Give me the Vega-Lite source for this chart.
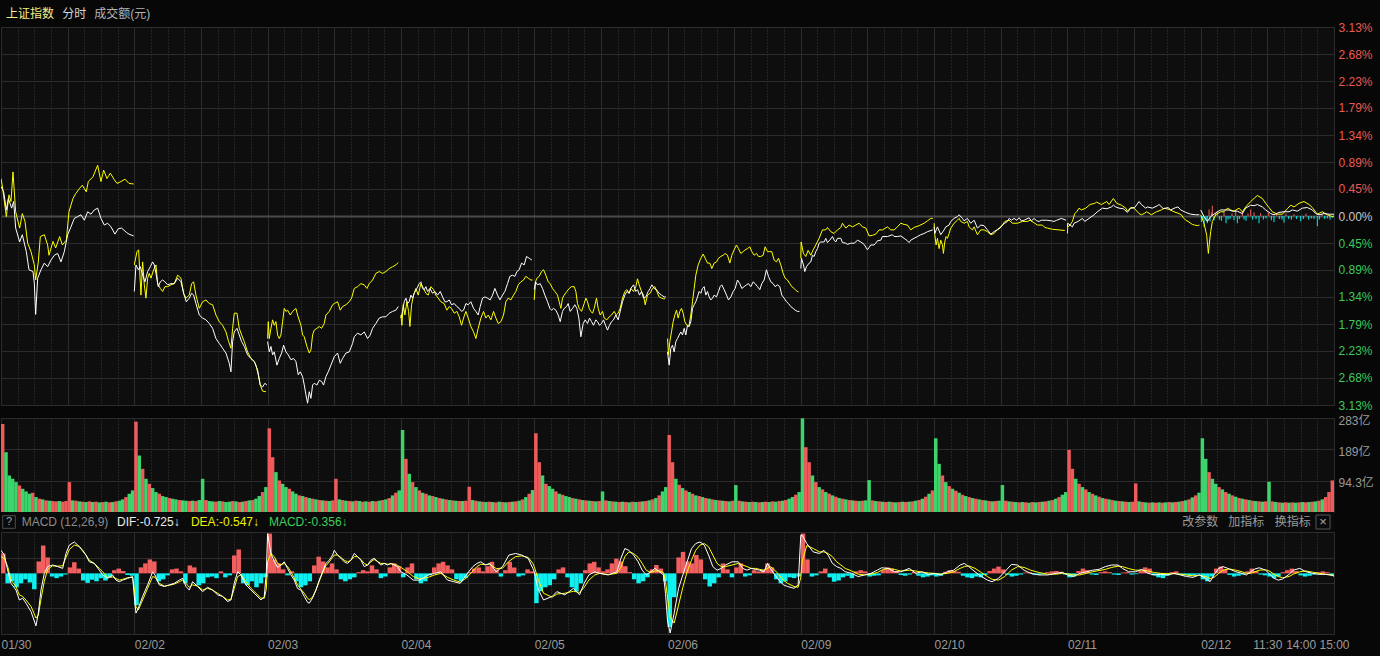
{
"$schema":"https://vega.github.io/schema/vega-lite/v6.json",
"background":"#070707",
"padding":0,
"spacing":0,
"bounds":"flush",
"config":{"font":"Liberation Sans, Noto Sans CJK SC, sans-serif","view":{"fill":"#0e0e0e","stroke":"#2c2c2c"}},
"datasets":{
"Y":[
{"d":0,"t":0,"p":0.62},{"d":0,"t":0.0125,"p":0.46},{"d":0,"t":0.04,"p":-0.01},{"d":0,"t":0.06,"p":0.35},{"d":0,"t":0.075,"p":0.24},{"d":0,"t":0.09,"p":0.73},{"d":0,"t":0.11,"p":0.07},{"d":0,"t":0.14,"p":-0.2},{"d":0,"t":0.16,"p":0.04},{"d":0,"t":0.18,"p":-0.09},{"d":0,"t":0.2,"p":-0.45},{"d":0,"t":0.225,"p":-0.59},{"d":0,"t":0.25,"p":-0.81},{"d":0,"t":0.26,"p":-1.06},{"d":0,"t":0.28,"p":-0.76},{"d":0,"t":0.295,"p":-0.34},{"d":0,"t":0.325,"p":-0.31},{"d":0,"t":0.35,"p":-0.48},{"d":0,"t":0.36,"p":-0.65},{"d":0,"t":0.39,"p":-0.42},{"d":0,"t":0.41,"p":-0.53},{"d":0,"t":0.44,"p":-0.34},{"d":0,"t":0.46,"p":-0.48},{"d":0,"t":0.49,"p":-0.4},{"d":0,"t":0.51,"p":0.07},{"d":0,"t":0.54,"p":0.29},{"d":0,"t":0.56,"p":0.37},{"d":0,"t":0.59,"p":0.46},{"d":0,"t":0.61,"p":0.51},{"d":0,"t":0.64,"p":0.4},{"d":0,"t":0.655,"p":0.57},{"d":0,"t":0.69,"p":0.65},{"d":0,"t":0.725,"p":0.84},{"d":0,"t":0.75,"p":0.57},{"d":0,"t":0.77,"p":0.76},{"d":0,"t":0.795,"p":0.62},{"d":0,"t":0.82,"p":0.71},{"d":0,"t":0.85,"p":0.6},{"d":0,"t":0.87,"p":0.54},{"d":0,"t":0.9,"p":0.57},{"d":0,"t":0.93,"p":0.61},{"d":0,"t":0.96,"p":0.54},{"d":0,"t":0.995,"p":0.53},
{"d":1,"t":1,"p":-0.81},{"d":1,"t":1.02,"p":-0.59},{"d":1,"t":1.0325,"p":-0.56},{"d":1,"t":1.05,"p":-1.31},{"d":1,"t":1.0625,"p":-0.76},{"d":1,"t":1.075,"p":-1.14},{"d":1,"t":1.0875,"p":-1.36},{"d":1,"t":1.1,"p":-1.03},{"d":1,"t":1.1125,"p":-0.95},{"d":1,"t":1.125,"p":-1.03},{"d":1,"t":1.145,"p":-0.89},{"d":1,"t":1.1625,"p":-0.81},{"d":1,"t":1.175,"p":-1.12},{"d":1,"t":1.195,"p":-1.2},{"d":1,"t":1.2125,"p":-1.25},{"d":1,"t":1.23,"p":-1.17},{"d":1,"t":1.25,"p":-1.17},{"d":1,"t":1.275,"p":-1.14},{"d":1,"t":1.3,"p":-1.12},{"d":1,"t":1.325,"p":-0.98},{"d":1,"t":1.35,"p":-1.03},{"d":1,"t":1.37,"p":-1.28},{"d":1,"t":1.3875,"p":-1.36},{"d":1,"t":1.4125,"p":-1.31},{"d":1,"t":1.43,"p":-1.12},{"d":1,"t":1.445,"p":-1.09},{"d":1,"t":1.4625,"p":-1.31},{"d":1,"t":1.4875,"p":-1.53},{"d":1,"t":1.5125,"p":-1.42},{"d":1,"t":1.5375,"p":-1.39},{"d":1,"t":1.5625,"p":-1.45},{"d":1,"t":1.5875,"p":-1.47},{"d":1,"t":1.6125,"p":-1.64},{"d":1,"t":1.6375,"p":-1.75},{"d":1,"t":1.6625,"p":-1.81},{"d":1,"t":1.6875,"p":-1.92},{"d":1,"t":1.7075,"p":-2.08},{"d":1,"t":1.725,"p":-2.19},{"d":1,"t":1.7375,"p":-1.86},{"d":1,"t":1.75,"p":-1.61},{"d":1,"t":1.77,"p":-1.61},{"d":1,"t":1.7875,"p":-1.86},{"d":1,"t":1.805,"p":-1.97},{"d":1,"t":1.825,"p":-2.08},{"d":1,"t":1.85,"p":-2.25},{"d":1,"t":1.875,"p":-2.36},{"d":1,"t":1.9,"p":-2.41},{"d":1,"t":1.9125,"p":-2.47},{"d":1,"t":1.93,"p":-2.63},{"d":1,"t":1.945,"p":-2.8},{"d":1,"t":1.9625,"p":-2.9},{"d":1,"t":1.9875,"p":-2.91},
{"d":2,"t":2,"p":-2.03},{"d":2,"t":2.005,"p":-1.75},{"d":2,"t":2.0125,"p":-2.03},{"d":2,"t":2.025,"p":-1.86},{"d":2,"t":2.0375,"p":-1.72},{"d":2,"t":2.05,"p":-1.81},{"d":2,"t":2.0625,"p":-1.75},{"d":2,"t":2.075,"p":-1.97},{"d":2,"t":2.0875,"p":-2.03},{"d":2,"t":2.1,"p":-1.97},{"d":2,"t":2.1125,"p":-1.75},{"d":2,"t":2.125,"p":-1.53},{"d":2,"t":2.1375,"p":-1.58},{"d":2,"t":2.15,"p":-1.56},{"d":2,"t":2.17,"p":-1.64},{"d":2,"t":2.1875,"p":-1.58},{"d":2,"t":2.2125,"p":-1.53},{"d":2,"t":2.225,"p":-1.64},{"d":2,"t":2.25,"p":-1.81},{"d":2,"t":2.2625,"p":-1.97},{"d":2,"t":2.275,"p":-2.0},{"d":2,"t":2.295,"p":-2.16},{"d":2,"t":2.3125,"p":-2.27},{"d":2,"t":2.325,"p":-2.22},{"d":2,"t":2.3375,"p":-1.97},{"d":2,"t":2.35,"p":-1.89},{"d":2,"t":2.37,"p":-1.86},{"d":2,"t":2.3875,"p":-1.83},{"d":2,"t":2.405,"p":-1.86},{"d":2,"t":2.425,"p":-1.78},{"d":2,"t":2.4375,"p":-1.64},{"d":2,"t":2.4625,"p":-1.58},{"d":2,"t":2.4875,"p":-1.47},{"d":2,"t":2.5,"p":-1.45},{"d":2,"t":2.525,"p":-1.42},{"d":2,"t":2.545,"p":-1.56},{"d":2,"t":2.5625,"p":-1.5},{"d":2,"t":2.5875,"p":-1.47},{"d":2,"t":2.6125,"p":-1.42},{"d":2,"t":2.63,"p":-1.36},{"d":2,"t":2.65,"p":-1.2},{"d":2,"t":2.675,"p":-1.17},{"d":2,"t":2.7,"p":-1.12},{"d":2,"t":2.725,"p":-1.14},{"d":2,"t":2.745,"p":-1.2},{"d":2,"t":2.7625,"p":-1.12},{"d":2,"t":2.7875,"p":-1.06},{"d":2,"t":2.8125,"p":-0.95},{"d":2,"t":2.8375,"p":-0.92},{"d":2,"t":2.8625,"p":-0.95},{"d":2,"t":2.8875,"p":-0.92},{"d":2,"t":2.9125,"p":-0.87},{"d":2,"t":2.9375,"p":-0.84},{"d":2,"t":2.9625,"p":-0.81},{"d":2,"t":2.98,"p":-0.77},
{"d":3,"t":3,"p":-1.64},{"d":3,"t":3.0075,"p":-1.81},{"d":3,"t":3.0175,"p":-1.47},{"d":3,"t":3.03,"p":-1.64},{"d":3,"t":3.045,"p":-1.42},{"d":3,"t":3.0575,"p":-1.58},{"d":3,"t":3.0675,"p":-1.83},{"d":3,"t":3.08,"p":-1.47},{"d":3,"t":3.095,"p":-1.31},{"d":3,"t":3.1125,"p":-1.2},{"d":3,"t":3.13,"p":-1.31},{"d":3,"t":3.15,"p":-1.12},{"d":3,"t":3.17,"p":-1.2},{"d":3,"t":3.1875,"p":-1.28},{"d":3,"t":3.205,"p":-1.31},{"d":3,"t":3.225,"p":-1.17},{"d":3,"t":3.245,"p":-1.22},{"d":3,"t":3.2625,"p":-1.31},{"d":3,"t":3.28,"p":-1.36},{"d":3,"t":3.3,"p":-1.42},{"d":3,"t":3.325,"p":-1.45},{"d":3,"t":3.345,"p":-1.56},{"d":3,"t":3.3625,"p":-1.5},{"d":3,"t":3.38,"p":-1.53},{"d":3,"t":3.4,"p":-1.61},{"d":3,"t":3.42,"p":-1.58},{"d":3,"t":3.4375,"p":-1.67},{"d":3,"t":3.455,"p":-1.81},{"d":3,"t":3.47,"p":-1.69},{"d":3,"t":3.4875,"p":-1.58},{"d":3,"t":3.505,"p":-1.69},{"d":3,"t":3.525,"p":-1.83},{"d":3,"t":3.545,"p":-1.92},{"d":3,"t":3.5625,"p":-2.03},{"d":3,"t":3.58,"p":-1.86},{"d":3,"t":3.6,"p":-1.69},{"d":3,"t":3.62,"p":-1.58},{"d":3,"t":3.6375,"p":-1.69},{"d":3,"t":3.655,"p":-1.64},{"d":3,"t":3.675,"p":-1.72},{"d":3,"t":3.695,"p":-1.58},{"d":3,"t":3.7125,"p":-1.69},{"d":3,"t":3.73,"p":-1.78},{"d":3,"t":3.75,"p":-1.75},{"d":3,"t":3.77,"p":-1.64},{"d":3,"t":3.7875,"p":-1.42},{"d":3,"t":3.805,"p":-1.36},{"d":3,"t":3.825,"p":-1.39},{"d":3,"t":3.845,"p":-1.31},{"d":3,"t":3.8625,"p":-1.25},{"d":3,"t":3.88,"p":-1.14},{"d":3,"t":3.9,"p":-1.09},{"d":3,"t":3.92,"p":-1.06},{"d":3,"t":3.9375,"p":-1.0},{"d":3,"t":3.955,"p":-1.03},{"d":3,"t":3.975,"p":-1.06},{"d":3,"t":3.9875,"p":-1.06},
{"d":4,"t":4,"p":-1.39},{"d":4,"t":4.01,"p":-1.09},{"d":4,"t":4.02,"p":-1.03},{"d":4,"t":4.0375,"p":-1.0},{"d":4,"t":4.055,"p":-0.92},{"d":4,"t":4.07,"p":-0.89},{"d":4,"t":4.0875,"p":-0.98},{"d":4,"t":4.105,"p":-1.09},{"d":4,"t":4.12,"p":-1.12},{"d":4,"t":4.1375,"p":-1.2},{"d":4,"t":4.155,"p":-1.25},{"d":4,"t":4.175,"p":-1.31},{"d":4,"t":4.1875,"p":-1.42},{"d":4,"t":4.2,"p":-1.53},{"d":4,"t":4.2125,"p":-1.36},{"d":4,"t":4.225,"p":-1.31},{"d":4,"t":4.245,"p":-1.25},{"d":4,"t":4.2625,"p":-1.2},{"d":4,"t":4.28,"p":-1.17},{"d":4,"t":4.3,"p":-1.17},{"d":4,"t":4.3125,"p":-1.25},{"d":4,"t":4.325,"p":-1.45},{"d":4,"t":4.3375,"p":-1.53},{"d":4,"t":4.355,"p":-1.58},{"d":4,"t":4.375,"p":-1.45},{"d":4,"t":4.3875,"p":-1.36},{"d":4,"t":4.4,"p":-1.42},{"d":4,"t":4.4125,"p":-1.53},{"d":4,"t":4.425,"p":-1.58},{"d":4,"t":4.4375,"p":-1.61},{"d":4,"t":4.45,"p":-1.53},{"d":4,"t":4.4675,"p":-1.36},{"d":4,"t":4.48,"p":-1.53},{"d":4,"t":4.495,"p":-1.64},{"d":4,"t":4.5125,"p":-1.58},{"d":4,"t":4.525,"p":-1.69},{"d":4,"t":4.545,"p":-1.72},{"d":4,"t":4.5625,"p":-1.67},{"d":4,"t":4.58,"p":-1.64},{"d":4,"t":4.6,"p":-1.58},{"d":4,"t":4.615,"p":-1.64},{"d":4,"t":4.63,"p":-1.61},{"d":4,"t":4.645,"p":-1.53},{"d":4,"t":4.6625,"p":-1.36},{"d":4,"t":4.68,"p":-1.25},{"d":4,"t":4.695,"p":-1.22},{"d":4,"t":4.7125,"p":-1.28},{"d":4,"t":4.725,"p":-1.2},{"d":4,"t":4.745,"p":-1.25},{"d":4,"t":4.7625,"p":-1.17},{"d":4,"t":4.775,"p":-1.04},{"d":4,"t":4.7875,"p":-1.14},{"d":4,"t":4.805,"p":-1.25},{"d":4,"t":4.82,"p":-1.31},{"d":4,"t":4.8325,"p":-1.47},{"d":4,"t":4.85,"p":-1.31},{"d":4,"t":4.87,"p":-1.28},{"d":4,"t":4.8875,"p":-1.2},{"d":4,"t":4.905,"p":-1.17},{"d":4,"t":4.92,"p":-1.25},{"d":4,"t":4.9375,"p":-1.34},{"d":4,"t":4.955,"p":-1.36},{"d":4,"t":4.97,"p":-1.37},{"d":4,"t":4.9825,"p":-1.37},
{"d":5,"t":5,"p":-2.03},{"d":5,"t":5.0075,"p":-2.3},{"d":5,"t":5.0175,"p":-2.08},{"d":5,"t":5.03,"p":-1.92},{"d":5,"t":5.0425,"p":-1.75},{"d":5,"t":5.055,"p":-1.64},{"d":5,"t":5.0675,"p":-1.56},{"d":5,"t":5.08,"p":-1.69},{"d":5,"t":5.0925,"p":-1.58},{"d":5,"t":5.105,"p":-1.53},{"d":5,"t":5.1175,"p":-1.61},{"d":5,"t":5.13,"p":-1.75},{"d":5,"t":5.145,"p":-1.81},{"d":5,"t":5.16,"p":-1.83},{"d":5,"t":5.175,"p":-1.64},{"d":5,"t":5.1875,"p":-1.42},{"d":5,"t":5.2,"p":-1.2},{"d":5,"t":5.2125,"p":-0.98},{"d":5,"t":5.23,"p":-0.81},{"d":5,"t":5.25,"p":-0.7},{"d":5,"t":5.2675,"p":-0.63},{"d":5,"t":5.2825,"p":-0.7},{"d":5,"t":5.3,"p":-0.78},{"d":5,"t":5.3175,"p":-0.78},{"d":5,"t":5.3325,"p":-0.87},{"d":5,"t":5.35,"p":-0.78},{"d":5,"t":5.3675,"p":-0.76},{"d":5,"t":5.3825,"p":-0.7},{"d":5,"t":5.4,"p":-0.67},{"d":5,"t":5.4175,"p":-0.65},{"d":5,"t":5.4325,"p":-0.62},{"d":5,"t":5.45,"p":-0.65},{"d":5,"t":5.4675,"p":-0.78},{"d":5,"t":5.4825,"p":-0.65},{"d":5,"t":5.5,"p":-0.56},{"d":5,"t":5.5175,"p":-0.48},{"d":5,"t":5.5325,"p":-0.54},{"d":5,"t":5.55,"p":-0.62},{"d":5,"t":5.5675,"p":-0.59},{"d":5,"t":5.5825,"p":-0.56},{"d":5,"t":5.6,"p":-0.54},{"d":5,"t":5.6175,"p":-0.51},{"d":5,"t":5.6325,"p":-0.59},{"d":5,"t":5.65,"p":-0.65},{"d":5,"t":5.6675,"p":-0.62},{"d":5,"t":5.6825,"p":-0.67},{"d":5,"t":5.7,"p":-0.67},{"d":5,"t":5.7175,"p":-0.65},{"d":5,"t":5.7325,"p":-0.51},{"d":5,"t":5.75,"p":-0.59},{"d":5,"t":5.7675,"p":-0.59},{"d":5,"t":5.7825,"p":-0.59},{"d":5,"t":5.8,"p":-0.73},{"d":5,"t":5.8175,"p":-0.76},{"d":5,"t":5.8325,"p":-0.7},{"d":5,"t":5.85,"p":-0.81},{"d":5,"t":5.8675,"p":-0.95},{"d":5,"t":5.8825,"p":-1.03},{"d":5,"t":5.9,"p":-1.06},{"d":5,"t":5.9175,"p":-1.12},{"d":5,"t":5.9325,"p":-1.17},{"d":5,"t":5.95,"p":-1.2},{"d":5,"t":5.9675,"p":-1.24},{"d":5,"t":5.9825,"p":-1.26},
{"d":6,"t":6,"p":-0.7},{"d":6,"t":6.0025,"p":-0.43},{"d":6,"t":6.02,"p":-0.62},{"d":6,"t":6.0375,"p":-0.67},{"d":6,"t":6.055,"p":-0.57},{"d":6,"t":6.075,"p":-0.65},{"d":6,"t":6.095,"p":-0.55},{"d":6,"t":6.1125,"p":-0.48},{"d":6,"t":6.1375,"p":-0.37},{"d":6,"t":6.1625,"p":-0.23},{"d":6,"t":6.1875,"p":-0.23},{"d":6,"t":6.2,"p":-0.19},{"d":6,"t":6.225,"p":-0.26},{"d":6,"t":6.25,"p":-0.29},{"d":6,"t":6.275,"p":-0.23},{"d":6,"t":6.3,"p":-0.19},{"d":6,"t":6.3125,"p":-0.12},{"d":6,"t":6.3375,"p":-0.2},{"d":6,"t":6.3625,"p":-0.15},{"d":6,"t":6.3875,"p":-0.18},{"d":6,"t":6.4125,"p":-0.15},{"d":6,"t":6.4375,"p":-0.12},{"d":6,"t":6.4625,"p":-0.18},{"d":6,"t":6.4875,"p":-0.2},{"d":6,"t":6.5125,"p":-0.33},{"d":6,"t":6.5375,"p":-0.32},{"d":6,"t":6.5625,"p":-0.3},{"d":6,"t":6.5875,"p":-0.23},{"d":6,"t":6.6125,"p":-0.23},{"d":6,"t":6.65,"p":-0.18},{"d":6,"t":6.675,"p":-0.23},{"d":6,"t":6.7,"p":-0.23},{"d":6,"t":6.725,"p":-0.18},{"d":6,"t":6.75,"p":-0.12},{"d":6,"t":6.775,"p":-0.14},{"d":6,"t":6.8,"p":-0.15},{"d":6,"t":6.825,"p":-0.23},{"d":6,"t":6.85,"p":-0.19},{"d":6,"t":6.8875,"p":-0.16},{"d":6,"t":6.925,"p":-0.12},{"d":6,"t":6.95,"p":-0.08},{"d":6,"t":6.975,"p":-0.04},{"d":6,"t":6.99,"p":-0.04},
{"d":7,"t":7,"p":-0.12},{"d":7,"t":7.005,"p":-0.31},{"d":7,"t":7.015,"p":-0.48},{"d":7,"t":7.025,"p":-0.37},{"d":7,"t":7.0375,"p":-0.54},{"d":7,"t":7.05,"p":-0.4},{"d":7,"t":7.0625,"p":-0.48},{"d":7,"t":7.07,"p":-0.62},{"d":7,"t":7.08,"p":-0.43},{"d":7,"t":7.09,"p":-0.34},{"d":7,"t":7.1,"p":-0.37},{"d":7,"t":7.1125,"p":-0.29},{"d":7,"t":7.125,"p":-0.2},{"d":7,"t":7.15,"p":-0.12},{"d":7,"t":7.175,"p":-0.07},{"d":7,"t":7.1875,"p":-0.04},{"d":7,"t":7.2,"p":-0.09},{"d":7,"t":7.225,"p":-0.12},{"d":7,"t":7.25,"p":-0.09},{"d":7,"t":7.2625,"p":-0.18},{"d":7,"t":7.2875,"p":-0.23},{"d":7,"t":7.3,"p":-0.18},{"d":7,"t":7.325,"p":-0.31},{"d":7,"t":7.35,"p":-0.23},{"d":7,"t":7.375,"p":-0.23},{"d":7,"t":7.4,"p":-0.26},{"d":7,"t":7.425,"p":-0.31},{"d":7,"t":7.45,"p":-0.29},{"d":7,"t":7.475,"p":-0.22},{"d":7,"t":7.5,"p":-0.18},{"d":7,"t":7.5125,"p":-0.15},{"d":7,"t":7.53,"p":-0.09},{"d":7,"t":7.5625,"p":-0.07},{"d":7,"t":7.5875,"p":-0.12},{"d":7,"t":7.625,"p":-0.12},{"d":7,"t":7.6625,"p":-0.09},{"d":7,"t":7.7,"p":-0.09},{"d":7,"t":7.72,"p":-0.07},{"d":7,"t":7.755,"p":-0.12},{"d":7,"t":7.775,"p":-0.15},{"d":7,"t":7.8125,"p":-0.15},{"d":7,"t":7.83,"p":-0.19},{"d":7,"t":7.85,"p":-0.2},{"d":7,"t":7.8875,"p":-0.22},{"d":7,"t":7.9375,"p":-0.23},{"d":7,"t":7.98,"p":-0.24},
{"d":8,"t":8,"p":-0.29},{"d":8,"t":8.0025,"p":-0.18},{"d":8,"t":8.02,"p":-0.15},{"d":8,"t":8.0375,"p":-0.09},{"d":8,"t":8.055,"p":0.04},{"d":8,"t":8.07,"p":0.07},{"d":8,"t":8.0875,"p":0.13},{"d":8,"t":8.105,"p":0.1},{"d":8,"t":8.1375,"p":0.13},{"d":8,"t":8.17,"p":0.19},{"d":8,"t":8.205,"p":0.21},{"d":8,"t":8.22,"p":0.23},{"d":8,"t":8.255,"p":0.19},{"d":8,"t":8.295,"p":0.24},{"d":8,"t":8.3125,"p":0.19},{"d":8,"t":8.345,"p":0.29},{"d":8,"t":8.37,"p":0.21},{"d":8,"t":8.405,"p":0.18},{"d":8,"t":8.4375,"p":0.13},{"d":8,"t":8.45,"p":0.08},{"d":8,"t":8.475,"p":0.14},{"d":8,"t":8.5,"p":0.13},{"d":8,"t":8.5375,"p":0.04},{"d":8,"t":8.555,"p":0.02},{"d":8,"t":8.575,"p":0.04},{"d":8,"t":8.595,"p":0.07},{"d":8,"t":8.63,"p":0.02},{"d":8,"t":8.6675,"p":0.07},{"d":8,"t":8.705,"p":0.1},{"d":8,"t":8.725,"p":0.13},{"d":8,"t":8.7625,"p":0.11},{"d":8,"t":8.8,"p":0.07},{"d":8,"t":8.8375,"p":0.04},{"d":8,"t":8.855,"p":0.02},{"d":8,"t":8.87,"p":-0.03},{"d":8,"t":8.8875,"p":-0.07},{"d":8,"t":8.905,"p":-0.09},{"d":8,"t":8.9375,"p":-0.14},{"d":8,"t":8.955,"p":-0.15},{"d":8,"t":8.975,"p":-0.16},{"d":8,"t":8.99,"p":-0.15},
{"d":9,"t":9,"p":0.02},{"d":9,"t":9.025,"p":-0.12},{"d":9,"t":9.045,"p":-0.32},{"d":9,"t":9.0575,"p":-0.62},{"d":9,"t":9.065,"p":-0.45},{"d":9,"t":9.075,"p":-0.26},{"d":9,"t":9.0875,"p":-0.09},{"d":9,"t":9.1125,"p":0.02},{"d":9,"t":9.15,"p":0.07},{"d":9,"t":9.175,"p":0.07},{"d":9,"t":9.2,"p":0.13},{"d":9,"t":9.225,"p":0.1},{"d":9,"t":9.25,"p":0.08},{"d":9,"t":9.2875,"p":0.13},{"d":9,"t":9.3125,"p":0.07},{"d":9,"t":9.3375,"p":0.15},{"d":9,"t":9.375,"p":0.24},{"d":9,"t":9.4,"p":0.29},{"d":9,"t":9.425,"p":0.34},{"d":9,"t":9.4625,"p":0.29},{"d":9,"t":9.4875,"p":0.21},{"d":9,"t":9.5125,"p":0.14},{"d":9,"t":9.5375,"p":0.07},{"d":9,"t":9.575,"p":0.03},{"d":9,"t":9.6125,"p":0.03},{"d":9,"t":9.65,"p":0.12},{"d":9,"t":9.675,"p":0.18},{"d":9,"t":9.7,"p":0.15},{"d":9,"t":9.7375,"p":0.21},{"d":9,"t":9.775,"p":0.24},{"d":9,"t":9.8125,"p":0.19},{"d":9,"t":9.8375,"p":0.14},{"d":9,"t":9.875,"p":0.03},{"d":9,"t":9.9125,"p":0.07},{"d":9,"t":9.95,"p":0.02},{"d":9,"t":9.9875,"p":-0.01},{"d":9,"t":10,"p":0.0}
],
"W":[
{"d":0,"t":0,"p":0.49},{"d":0,"t":0.02,"p":0.4},{"d":0,"t":0.04,"p":0.1},{"d":0,"t":0.055,"p":0.29},{"d":0,"t":0.08,"p":0.13},{"d":0,"t":0.095,"p":0.24},{"d":0,"t":0.11,"p":-0.2},{"d":0,"t":0.14,"p":-0.43},{"d":0,"t":0.16,"p":-0.31},{"d":0,"t":0.19,"p":-0.59},{"d":0,"t":0.21,"p":-0.89},{"d":0,"t":0.24,"p":-0.92},{"d":0,"t":0.25,"p":-1.11},{"d":0,"t":0.26,"p":-1.63},{"d":0,"t":0.275,"p":-1.03},{"d":0,"t":0.3,"p":-0.89},{"d":0,"t":0.325,"p":-0.78},{"d":0,"t":0.35,"p":-0.84},{"d":0,"t":0.375,"p":-0.73},{"d":0,"t":0.4,"p":-0.65},{"d":0,"t":0.425,"p":-0.62},{"d":0,"t":0.45,"p":-0.76},{"d":0,"t":0.475,"p":-0.59},{"d":0,"t":0.5,"p":-0.31},{"d":0,"t":0.525,"p":-0.18},{"d":0,"t":0.55,"p":-0.04},{"d":0,"t":0.575,"p":-0.01},{"d":0,"t":0.6,"p":0.02},{"d":0,"t":0.625,"p":-0.07},{"d":0,"t":0.65,"p":0.07},{"d":0,"t":0.675,"p":0.03},{"d":0,"t":0.7,"p":0.1},{"d":0,"t":0.725,"p":0.13},{"d":0,"t":0.75,"p":-0.04},{"d":0,"t":0.775,"p":-0.15},{"d":0,"t":0.8,"p":-0.12},{"d":0,"t":0.825,"p":-0.18},{"d":0,"t":0.855,"p":-0.3},{"d":0,"t":0.88,"p":-0.21},{"d":0,"t":0.905,"p":-0.2},{"d":0,"t":0.94,"p":-0.27},{"d":0,"t":0.96,"p":-0.3},{"d":0,"t":0.995,"p":-0.33},
{"d":1,"t":1,"p":-1.25},{"d":1,"t":1.0125,"p":-0.81},{"d":1,"t":1.03,"p":-0.89},{"d":1,"t":1.045,"p":-0.84},{"d":1,"t":1.0625,"p":-0.98},{"d":1,"t":1.08,"p":-1.09},{"d":1,"t":1.1,"p":-0.92},{"d":1,"t":1.12,"p":-0.84},{"d":1,"t":1.1375,"p":-0.76},{"d":1,"t":1.15,"p":-0.81},{"d":1,"t":1.1625,"p":-0.95},{"d":1,"t":1.18,"p":-1.17},{"d":1,"t":1.195,"p":-1.09},{"d":1,"t":1.2125,"p":-1.06},{"d":1,"t":1.23,"p":-1.09},{"d":1,"t":1.25,"p":-1.14},{"d":1,"t":1.275,"p":-1.12},{"d":1,"t":1.3,"p":-1.12},{"d":1,"t":1.325,"p":-1.03},{"d":1,"t":1.35,"p":-1.09},{"d":1,"t":1.37,"p":-1.28},{"d":1,"t":1.39,"p":-1.42},{"d":1,"t":1.4125,"p":-1.36},{"d":1,"t":1.43,"p":-1.28},{"d":1,"t":1.445,"p":-1.31},{"d":1,"t":1.4625,"p":-1.45},{"d":1,"t":1.4875,"p":-1.64},{"d":1,"t":1.5125,"p":-1.69},{"d":1,"t":1.5375,"p":-1.72},{"d":1,"t":1.5625,"p":-1.78},{"d":1,"t":1.5875,"p":-1.86},{"d":1,"t":1.6125,"p":-2.03},{"d":1,"t":1.6375,"p":-2.11},{"d":1,"t":1.6625,"p":-2.19},{"d":1,"t":1.6875,"p":-2.27},{"d":1,"t":1.7125,"p":-2.44},{"d":1,"t":1.725,"p":-2.58},{"d":1,"t":1.7375,"p":-2.08},{"d":1,"t":1.75,"p":-1.92},{"d":1,"t":1.77,"p":-1.86},{"d":1,"t":1.7875,"p":-1.97},{"d":1,"t":1.805,"p":-2.08},{"d":1,"t":1.825,"p":-2.16},{"d":1,"t":1.85,"p":-2.3},{"d":1,"t":1.875,"p":-2.36},{"d":1,"t":1.9,"p":-2.41},{"d":1,"t":1.925,"p":-2.55},{"d":1,"t":1.945,"p":-2.8},{"d":1,"t":1.9625,"p":-2.83},{"d":1,"t":1.98,"p":-2.77},{"d":1,"t":1.995,"p":-2.8},
{"d":2,"t":2,"p":-2.08},{"d":2,"t":2.0125,"p":-2.25},{"d":2,"t":2.025,"p":-2.16},{"d":2,"t":2.0375,"p":-2.3},{"d":2,"t":2.05,"p":-2.25},{"d":2,"t":2.07,"p":-2.47},{"d":2,"t":2.0875,"p":-2.36},{"d":2,"t":2.105,"p":-2.27},{"d":2,"t":2.12,"p":-2.14},{"d":2,"t":2.1375,"p":-2.25},{"d":2,"t":2.155,"p":-2.3},{"d":2,"t":2.175,"p":-2.38},{"d":2,"t":2.195,"p":-2.36},{"d":2,"t":2.2125,"p":-2.41},{"d":2,"t":2.23,"p":-2.63},{"d":2,"t":2.245,"p":-2.58},{"d":2,"t":2.2625,"p":-2.66},{"d":2,"t":2.275,"p":-2.8},{"d":2,"t":2.2875,"p":-2.96},{"d":2,"t":2.3,"p":-3.1},{"d":2,"t":2.3125,"p":-2.91},{"d":2,"t":2.325,"p":-3.02},{"d":2,"t":2.3375,"p":-2.8},{"d":2,"t":2.35,"p":-2.77},{"d":2,"t":2.37,"p":-2.8},{"d":2,"t":2.3875,"p":-2.72},{"d":2,"t":2.405,"p":-2.74},{"d":2,"t":2.42,"p":-2.8},{"d":2,"t":2.4375,"p":-2.66},{"d":2,"t":2.455,"p":-2.58},{"d":2,"t":2.475,"p":-2.47},{"d":2,"t":2.5,"p":-2.33},{"d":2,"t":2.525,"p":-2.27},{"d":2,"t":2.545,"p":-2.44},{"d":2,"t":2.5625,"p":-2.36},{"d":2,"t":2.5875,"p":-2.27},{"d":2,"t":2.6125,"p":-2.25},{"d":2,"t":2.6375,"p":-2.11},{"d":2,"t":2.65,"p":-2.0},{"d":2,"t":2.675,"p":-1.94},{"d":2,"t":2.7,"p":-1.97},{"d":2,"t":2.725,"p":-1.92},{"d":2,"t":2.75,"p":-2.03},{"d":2,"t":2.77,"p":-1.97},{"d":2,"t":2.7875,"p":-1.86},{"d":2,"t":2.8125,"p":-1.78},{"d":2,"t":2.8375,"p":-1.69},{"d":2,"t":2.8625,"p":-1.67},{"d":2,"t":2.8875,"p":-1.67},{"d":2,"t":2.9125,"p":-1.61},{"d":2,"t":2.9375,"p":-1.58},{"d":2,"t":2.9625,"p":-1.56},{"d":2,"t":2.98,"p":-1.5},
{"d":3,"t":3,"p":-1.69},{"d":3,"t":3.0125,"p":-1.58},{"d":3,"t":3.025,"p":-1.42},{"d":3,"t":3.0375,"p":-1.36},{"d":3,"t":3.05,"p":-1.45},{"d":3,"t":3.0625,"p":-1.42},{"d":3,"t":3.075,"p":-1.31},{"d":3,"t":3.0875,"p":-1.36},{"d":3,"t":3.1,"p":-1.28},{"d":3,"t":3.12,"p":-1.2},{"d":3,"t":3.1375,"p":-1.12},{"d":3,"t":3.15,"p":-1.09},{"d":3,"t":3.1625,"p":-1.2},{"d":3,"t":3.175,"p":-1.22},{"d":3,"t":3.1875,"p":-1.17},{"d":3,"t":3.2,"p":-1.25},{"d":3,"t":3.2175,"p":-1.2},{"d":3,"t":3.2375,"p":-1.28},{"d":3,"t":3.255,"p":-1.25},{"d":3,"t":3.275,"p":-1.31},{"d":3,"t":3.295,"p":-1.25},{"d":3,"t":3.3125,"p":-1.34},{"d":3,"t":3.33,"p":-1.42},{"d":3,"t":3.345,"p":-1.42},{"d":3,"t":3.3625,"p":-1.39},{"d":3,"t":3.38,"p":-1.47},{"d":3,"t":3.4,"p":-1.45},{"d":3,"t":3.42,"p":-1.5},{"d":3,"t":3.4375,"p":-1.53},{"d":3,"t":3.455,"p":-1.58},{"d":3,"t":3.47,"p":-1.56},{"d":3,"t":3.4875,"p":-1.45},{"d":3,"t":3.505,"p":-1.47},{"d":3,"t":3.525,"p":-1.42},{"d":3,"t":3.545,"p":-1.53},{"d":3,"t":3.5625,"p":-1.58},{"d":3,"t":3.58,"p":-1.64},{"d":3,"t":3.595,"p":-1.5},{"d":3,"t":3.6125,"p":-1.36},{"d":3,"t":3.63,"p":-1.34},{"d":3,"t":3.65,"p":-1.36},{"d":3,"t":3.67,"p":-1.39},{"d":3,"t":3.6875,"p":-1.31},{"d":3,"t":3.705,"p":-1.2},{"d":3,"t":3.725,"p":-1.31},{"d":3,"t":3.7425,"p":-1.39},{"d":3,"t":3.7625,"p":-1.31},{"d":3,"t":3.78,"p":-1.25},{"d":3,"t":3.8,"p":-1.12},{"d":3,"t":3.8175,"p":-1.0},{"d":3,"t":3.8375,"p":-0.98},{"d":3,"t":3.855,"p":-1.0},{"d":3,"t":3.87,"p":-0.92},{"d":3,"t":3.8875,"p":-0.89},{"d":3,"t":3.905,"p":-0.78},{"d":3,"t":3.925,"p":-0.81},{"d":3,"t":3.9425,"p":-0.67},{"d":3,"t":3.9625,"p":-0.7},{"d":3,"t":3.9825,"p":-0.73},
{"d":4,"t":4,"p":-1.22},{"d":4,"t":4.01,"p":-1.09},{"d":4,"t":4.025,"p":-1.14},{"d":4,"t":4.045,"p":-1.12},{"d":4,"t":4.0625,"p":-1.2},{"d":4,"t":4.08,"p":-1.31},{"d":4,"t":4.1,"p":-1.42},{"d":4,"t":4.1175,"p":-1.53},{"d":4,"t":4.13,"p":-1.56},{"d":4,"t":4.145,"p":-1.53},{"d":4,"t":4.1625,"p":-1.56},{"d":4,"t":4.18,"p":-1.64},{"d":4,"t":4.195,"p":-1.75},{"d":4,"t":4.2125,"p":-1.58},{"d":4,"t":4.225,"p":-1.53},{"d":4,"t":4.2425,"p":-1.5},{"d":4,"t":4.255,"p":-1.45},{"d":4,"t":4.27,"p":-1.58},{"d":4,"t":4.2875,"p":-1.53},{"d":4,"t":4.305,"p":-1.47},{"d":4,"t":4.32,"p":-1.53},{"d":4,"t":4.335,"p":-1.69},{"d":4,"t":4.35,"p":-2.0},{"d":4,"t":4.3675,"p":-1.78},{"d":4,"t":4.3825,"p":-1.72},{"d":4,"t":4.4,"p":-1.78},{"d":4,"t":4.415,"p":-1.69},{"d":4,"t":4.43,"p":-1.75},{"d":4,"t":4.445,"p":-1.81},{"d":4,"t":4.4625,"p":-1.72},{"d":4,"t":4.475,"p":-1.75},{"d":4,"t":4.49,"p":-1.81},{"d":4,"t":4.505,"p":-1.78},{"d":4,"t":4.52,"p":-1.72},{"d":4,"t":4.535,"p":-1.81},{"d":4,"t":4.55,"p":-1.89},{"d":4,"t":4.565,"p":-1.81},{"d":4,"t":4.58,"p":-1.75},{"d":4,"t":4.595,"p":-1.72},{"d":4,"t":4.6125,"p":-1.64},{"d":4,"t":4.63,"p":-1.72},{"d":4,"t":4.645,"p":-1.58},{"d":4,"t":4.6625,"p":-1.42},{"d":4,"t":4.68,"p":-1.31},{"d":4,"t":4.695,"p":-1.25},{"d":4,"t":4.7125,"p":-1.28},{"d":4,"t":4.725,"p":-1.2},{"d":4,"t":4.745,"p":-1.14},{"d":4,"t":4.7625,"p":-1.25},{"d":4,"t":4.775,"p":-1.22},{"d":4,"t":4.79,"p":-1.31},{"d":4,"t":4.805,"p":-1.25},{"d":4,"t":4.82,"p":-1.36},{"d":4,"t":4.8375,"p":-1.34},{"d":4,"t":4.855,"p":-1.25},{"d":4,"t":4.87,"p":-1.2},{"d":4,"t":4.8825,"p":-1.14},{"d":4,"t":4.9,"p":-1.2},{"d":4,"t":4.9175,"p":-1.22},{"d":4,"t":4.9375,"p":-1.28},{"d":4,"t":4.955,"p":-1.31},{"d":4,"t":4.975,"p":-1.34},{"d":4,"t":4.9875,"p":-1.34},
{"d":5,"t":5,"p":-2.25},{"d":5,"t":5.0125,"p":-2.47},{"d":5,"t":5.025,"p":-2.19},{"d":5,"t":5.0375,"p":-2.14},{"d":5,"t":5.05,"p":-2.25},{"d":5,"t":5.0625,"p":-2.08},{"d":5,"t":5.075,"p":-2.03},{"d":5,"t":5.0875,"p":-1.97},{"d":5,"t":5.1,"p":-1.92},{"d":5,"t":5.1125,"p":-1.97},{"d":5,"t":5.125,"p":-1.86},{"d":5,"t":5.1375,"p":-1.97},{"d":5,"t":5.15,"p":-1.81},{"d":5,"t":5.1625,"p":-1.83},{"d":5,"t":5.175,"p":-1.75},{"d":5,"t":5.1875,"p":-1.53},{"d":5,"t":5.2,"p":-1.47},{"d":5,"t":5.2125,"p":-1.42},{"d":5,"t":5.225,"p":-1.34},{"d":5,"t":5.2375,"p":-1.25},{"d":5,"t":5.25,"p":-1.28},{"d":5,"t":5.2625,"p":-1.2},{"d":5,"t":5.275,"p":-1.17},{"d":5,"t":5.2875,"p":-1.31},{"d":5,"t":5.3,"p":-1.25},{"d":5,"t":5.3125,"p":-1.34},{"d":5,"t":5.325,"p":-1.39},{"d":5,"t":5.3375,"p":-1.36},{"d":5,"t":5.35,"p":-1.31},{"d":5,"t":5.3675,"p":-1.34},{"d":5,"t":5.3825,"p":-1.25},{"d":5,"t":5.395,"p":-1.17},{"d":5,"t":5.4075,"p":-1.14},{"d":5,"t":5.425,"p":-1.22},{"d":5,"t":5.4425,"p":-1.31},{"d":5,"t":5.4575,"p":-1.39},{"d":5,"t":5.475,"p":-1.34},{"d":5,"t":5.4925,"p":-1.25},{"d":5,"t":5.5075,"p":-1.2},{"d":5,"t":5.525,"p":-1.06},{"d":5,"t":5.5425,"p":-1.12},{"d":5,"t":5.5575,"p":-1.2},{"d":5,"t":5.575,"p":-1.17},{"d":5,"t":5.5925,"p":-1.14},{"d":5,"t":5.6075,"p":-1.12},{"d":5,"t":5.625,"p":-1.17},{"d":5,"t":5.6425,"p":-1.09},{"d":5,"t":5.6575,"p":-1.12},{"d":5,"t":5.675,"p":-1.17},{"d":5,"t":5.6925,"p":-1.22},{"d":5,"t":5.7075,"p":-1.12},{"d":5,"t":5.725,"p":-1.06},{"d":5,"t":5.7425,"p":-0.89},{"d":5,"t":5.7575,"p":-1.0},{"d":5,"t":5.775,"p":-1.09},{"d":5,"t":5.7925,"p":-1.12},{"d":5,"t":5.8075,"p":-1.17},{"d":5,"t":5.825,"p":-1.14},{"d":5,"t":5.8425,"p":-1.17},{"d":5,"t":5.8575,"p":-1.31},{"d":5,"t":5.875,"p":-1.36},{"d":5,"t":5.8925,"p":-1.42},{"d":5,"t":5.9075,"p":-1.45},{"d":5,"t":5.925,"p":-1.5},{"d":5,"t":5.9425,"p":-1.53},{"d":5,"t":5.9575,"p":-1.56},{"d":5,"t":5.975,"p":-1.58},{"d":5,"t":5.99,"p":-1.58},
{"d":6,"t":6,"p":-0.87},{"d":6,"t":6.005,"p":-0.7},{"d":6,"t":6.02,"p":-0.81},{"d":6,"t":6.03,"p":-0.92},{"d":6,"t":6.0425,"p":-0.84},{"d":6,"t":6.0625,"p":-0.78},{"d":6,"t":6.075,"p":-0.76},{"d":6,"t":6.0875,"p":-0.65},{"d":6,"t":6.1,"p":-0.67},{"d":6,"t":6.1125,"p":-0.59},{"d":6,"t":6.125,"p":-0.54},{"d":6,"t":6.1375,"p":-0.45},{"d":6,"t":6.15,"p":-0.43},{"d":6,"t":6.175,"p":-0.43},{"d":6,"t":6.1875,"p":-0.37},{"d":6,"t":6.2,"p":-0.44},{"d":6,"t":6.2175,"p":-0.4},{"d":6,"t":6.2375,"p":-0.34},{"d":6,"t":6.25,"p":-0.4},{"d":6,"t":6.2625,"p":-0.43},{"d":6,"t":6.275,"p":-0.37},{"d":6,"t":6.3,"p":-0.37},{"d":6,"t":6.3125,"p":-0.44},{"d":6,"t":6.3375,"p":-0.45},{"d":6,"t":6.35,"p":-0.47},{"d":6,"t":6.375,"p":-0.45},{"d":6,"t":6.4,"p":-0.45},{"d":6,"t":6.4125,"p":-0.43},{"d":6,"t":6.425,"p":-0.4},{"d":6,"t":6.45,"p":-0.43},{"d":6,"t":6.475,"p":-0.47},{"d":6,"t":6.5,"p":-0.56},{"d":6,"t":6.5125,"p":-0.52},{"d":6,"t":6.525,"p":-0.48},{"d":6,"t":6.55,"p":-0.48},{"d":6,"t":6.5625,"p":-0.45},{"d":6,"t":6.575,"p":-0.41},{"d":6,"t":6.6,"p":-0.4},{"d":6,"t":6.6125,"p":-0.34},{"d":6,"t":6.65,"p":-0.34},{"d":6,"t":6.6875,"p":-0.31},{"d":6,"t":6.7,"p":-0.34},{"d":6,"t":6.725,"p":-0.34},{"d":6,"t":6.75,"p":-0.33},{"d":6,"t":6.775,"p":-0.37},{"d":6,"t":6.8,"p":-0.41},{"d":6,"t":6.8125,"p":-0.44},{"d":6,"t":6.825,"p":-0.4},{"d":6,"t":6.85,"p":-0.37},{"d":6,"t":6.875,"p":-0.34},{"d":6,"t":6.9,"p":-0.31},{"d":6,"t":6.925,"p":-0.29},{"d":6,"t":6.95,"p":-0.26},{"d":6,"t":6.99,"p":-0.23},
{"d":7,"t":7,"p":-0.18},{"d":7,"t":7.005,"p":-0.29},{"d":7,"t":7.025,"p":-0.18},{"d":7,"t":7.05,"p":-0.31},{"d":7,"t":7.075,"p":-0.23},{"d":7,"t":7.0875,"p":-0.18},{"d":7,"t":7.1125,"p":-0.15},{"d":7,"t":7.125,"p":-0.09},{"d":7,"t":7.15,"p":-0.04},{"d":7,"t":7.175,"p":-0.01},{"d":7,"t":7.1875,"p":0.02},{"d":7,"t":7.2125,"p":-0.04},{"d":7,"t":7.225,"p":-0.08},{"d":7,"t":7.25,"p":-0.04},{"d":7,"t":7.275,"p":-0.12},{"d":7,"t":7.3,"p":-0.07},{"d":7,"t":7.325,"p":-0.2},{"d":7,"t":7.35,"p":-0.15},{"d":7,"t":7.375,"p":-0.16},{"d":7,"t":7.4,"p":-0.23},{"d":7,"t":7.425,"p":-0.3},{"d":7,"t":7.455,"p":-0.25},{"d":7,"t":7.475,"p":-0.23},{"d":7,"t":7.495,"p":-0.2},{"d":7,"t":7.5125,"p":-0.15},{"d":7,"t":7.53,"p":-0.12},{"d":7,"t":7.55,"p":-0.09},{"d":7,"t":7.5625,"p":-0.04},{"d":7,"t":7.58,"p":-0.07},{"d":7,"t":7.6,"p":-0.04},{"d":7,"t":7.62,"p":-0.07},{"d":7,"t":7.6375,"p":-0.03},{"d":7,"t":7.655,"p":-0.08},{"d":7,"t":7.675,"p":-0.07},{"d":7,"t":7.7125,"p":-0.03},{"d":7,"t":7.73,"p":-0.08},{"d":7,"t":7.75,"p":-0.04},{"d":7,"t":7.77,"p":-0.08},{"d":7,"t":7.7875,"p":-0.09},{"d":7,"t":7.805,"p":-0.07},{"d":7,"t":7.845,"p":-0.07},{"d":7,"t":7.88,"p":-0.08},{"d":7,"t":7.9,"p":-0.09},{"d":7,"t":7.92,"p":-0.07},{"d":7,"t":7.955,"p":-0.04},{"d":7,"t":7.99,"p":-0.07},
{"d":8,"t":8,"p":-0.18},{"d":8,"t":8.0025,"p":-0.12},{"d":8,"t":8.0375,"p":-0.18},{"d":8,"t":8.05,"p":-0.12},{"d":8,"t":8.08,"p":-0.09},{"d":8,"t":8.1125,"p":-0.04},{"d":8,"t":8.13,"p":-0.09},{"d":8,"t":8.1625,"p":-0.04},{"d":8,"t":8.2,"p":0.02},{"d":8,"t":8.225,"p":0.07},{"d":8,"t":8.2625,"p":0.13},{"d":8,"t":8.295,"p":0.12},{"d":8,"t":8.33,"p":0.15},{"d":8,"t":8.345,"p":0.18},{"d":8,"t":8.3625,"p":0.15},{"d":8,"t":8.3875,"p":0.13},{"d":8,"t":8.42,"p":0.12},{"d":8,"t":8.45,"p":0.06},{"d":8,"t":8.475,"p":0.13},{"d":8,"t":8.505,"p":0.14},{"d":8,"t":8.5375,"p":0.24},{"d":8,"t":8.555,"p":0.19},{"d":8,"t":8.5875,"p":0.13},{"d":8,"t":8.6,"p":0.15},{"d":8,"t":8.6375,"p":0.13},{"d":8,"t":8.675,"p":0.17},{"d":8,"t":8.6875,"p":0.19},{"d":8,"t":8.72,"p":0.12},{"d":8,"t":8.755,"p":0.14},{"d":8,"t":8.775,"p":0.1},{"d":8,"t":8.8125,"p":0.14},{"d":8,"t":8.83,"p":0.15},{"d":8,"t":8.85,"p":0.1},{"d":8,"t":8.8875,"p":0.06},{"d":8,"t":8.925,"p":0.03},{"d":8,"t":8.9625,"p":0.02},{"d":8,"t":8.99,"p":0.02},
{"d":9,"t":9,"p":0.1},{"d":9,"t":9.025,"p":-0.01},{"d":9,"t":9.05,"p":-0.09},{"d":9,"t":9.075,"p":-0.01},{"d":9,"t":9.1,"p":0.03},{"d":9,"t":9.125,"p":0.07},{"d":9,"t":9.15,"p":0.1},{"d":9,"t":9.1875,"p":0.1},{"d":9,"t":9.2125,"p":0.1},{"d":9,"t":9.2375,"p":0.08},{"d":9,"t":9.275,"p":0.08},{"d":9,"t":9.3125,"p":0.04},{"d":9,"t":9.3375,"p":0.13},{"d":9,"t":9.375,"p":0.18},{"d":9,"t":9.4,"p":0.17},{"d":9,"t":9.425,"p":0.19},{"d":9,"t":9.4625,"p":0.15},{"d":9,"t":9.4875,"p":0.1},{"d":9,"t":9.525,"p":0.04},{"d":9,"t":9.55,"p":0.02},{"d":9,"t":9.5875,"p":0.06},{"d":9,"t":9.625,"p":0.07},{"d":9,"t":9.6625,"p":0.07},{"d":9,"t":9.6875,"p":0.1},{"d":9,"t":9.725,"p":0.08},{"d":9,"t":9.7625,"p":0.13},{"d":9,"t":9.8,"p":0.14},{"d":9,"t":9.8375,"p":0.1},{"d":9,"t":9.8625,"p":0.04},{"d":9,"t":9.8875,"p":0.02},{"d":9,"t":9.925,"p":0.04},{"d":9,"t":9.9625,"p":0.03},{"d":9,"t":10,"p":0.03}
],
"B":[
{"t":9.005,"p":-0.1},{"t":9.015,"p":-0.06},{"t":9.025,"p":-0.18},{"t":9.04,"p":-0.08},{"t":9.05,"p":-0.12},{"t":9.0625,"p":0.11},{"t":9.07,"p":-0.09},{"t":9.08,"p":0.06},{"t":9.0875,"p":0.17},{"t":9.1,"p":-0.07},{"t":9.11,"p":0.05},{"t":9.125,"p":0.08},{"t":9.14,"p":-0.06},{"t":9.155,"p":-0.08},{"t":9.175,"p":0.07},{"t":9.19,"p":-0.12},{"t":9.205,"p":-0.06},{"t":9.22,"p":-0.05},{"t":9.235,"p":0.04},{"t":9.25,"p":-0.07},{"t":9.2625,"p":0.09},{"t":9.275,"p":-0.12},{"t":9.29,"p":-0.05},{"t":9.3125,"p":0.07},{"t":9.325,"p":-0.06},{"t":9.34,"p":-0.08},{"t":9.355,"p":0.04},{"t":9.375,"p":0.11},{"t":9.39,"p":-0.06},{"t":9.4,"p":0.06},{"t":9.415,"p":-0.05},{"t":9.4375,"p":-0.12},{"t":9.45,"p":0.05},{"t":9.47,"p":-0.06},{"t":9.49,"p":-0.04},{"t":9.51,"p":0.05},{"t":9.53,"p":-0.07},{"t":9.55,"p":-0.1},{"t":9.57,"p":0.04},{"t":9.59,"p":-0.05},{"t":9.61,"p":-0.06},{"t":9.625,"p":-0.11},{"t":9.64,"p":0.04},{"t":9.66,"p":-0.05},{"t":9.68,"p":-0.06},{"t":9.7,"p":0.03},{"t":9.72,"p":-0.05},{"t":9.75,"p":-0.09},{"t":9.77,"p":-0.05},{"t":9.79,"p":0.04},{"t":9.81,"p":-0.06},{"t":9.83,"p":-0.04},{"t":9.85,"p":-0.05},{"t":9.875,"p":-0.17},{"t":9.89,"p":-0.06},{"t":9.91,"p":0.03},{"t":9.93,"p":-0.05},{"t":9.95,"p":-0.04},{"t":9.97,"p":-0.06},{"t":9.99,"p":-0.03}
],
"D":[{"t":0,"lab":"前9日"},{"t":1,"lab":"前8日"},{"t":2,"lab":"前7日"},{"t":3,"lab":"前6日"},{"t":4,"lab":"前5日"},{"t":5,"lab":"前4日"},{"t":6,"lab":"前3日"},{"t":7,"lab":"前2日"},{"t":8,"lab":"前1日"}],
"V":[
{"t":0.0125,"v":265,"c":"r"},{"t":0.0375,"v":180,"c":"g"},{"t":0.0625,"v":110,"c":"g"},{"t":0.0875,"v":100,"c":"g"},{"t":0.1125,"v":90,"c":"g"},{"t":0.1375,"v":80,"c":"r"},{"t":0.1625,"v":70,"c":"g"},{"t":0.1875,"v":62,"c":"g"},{"t":0.2125,"v":55,"c":"g"},{"t":0.2375,"v":58,"c":"r"},{"t":0.2625,"v":45,"c":"g"},{"t":0.2875,"v":40,"c":"r"},{"t":0.3125,"v":38,"c":"g"},{"t":0.3375,"v":35,"c":"r"},{"t":0.3625,"v":34,"c":"g"},{"t":0.3875,"v":33,"c":"r"},{"t":0.4125,"v":32,"c":"r"},{"t":0.4375,"v":33,"c":"g"},{"t":0.4625,"v":31,"c":"r"},{"t":0.4875,"v":33,"c":"r"},{"t":0.5125,"v":90,"c":"r"},{"t":0.5375,"v":35,"c":"g"},{"t":0.5625,"v":34,"c":"r"},{"t":0.5875,"v":32,"c":"g"},{"t":0.6125,"v":31,"c":"r"},{"t":0.6375,"v":30,"c":"g"},{"t":0.6625,"v":32,"c":"r"},{"t":0.6875,"v":30,"c":"g"},{"t":0.7125,"v":31,"c":"r"},{"t":0.7375,"v":29,"c":"g"},{"t":0.7625,"v":30,"c":"r"},{"t":0.7875,"v":31,"c":"g"},{"t":0.8125,"v":29,"c":"r"},{"t":0.8375,"v":30,"c":"g"},{"t":0.8625,"v":32,"c":"r"},{"t":0.8875,"v":34,"c":"g"},{"t":0.9125,"v":38,"c":"g"},{"t":0.9375,"v":45,"c":"r"},{"t":0.9625,"v":55,"c":"g"},{"t":0.9875,"v":65,"c":"g"},
{"t":1.0125,"v":272,"c":"r"},{"t":1.0375,"v":170,"c":"g"},{"t":1.0625,"v":130,"c":"r"},{"t":1.0875,"v":100,"c":"g"},{"t":1.1125,"v":85,"c":"r"},{"t":1.1375,"v":72,"c":"g"},{"t":1.1625,"v":60,"c":"g"},{"t":1.1875,"v":55,"c":"r"},{"t":1.2125,"v":48,"c":"g"},{"t":1.2375,"v":45,"c":"g"},{"t":1.2625,"v":42,"c":"r"},{"t":1.2875,"v":40,"c":"g"},{"t":1.3125,"v":38,"c":"g"},{"t":1.3375,"v":36,"c":"r"},{"t":1.3625,"v":35,"c":"g"},{"t":1.3875,"v":34,"c":"g"},{"t":1.4125,"v":33,"c":"r"},{"t":1.4375,"v":34,"c":"g"},{"t":1.4625,"v":33,"c":"r"},{"t":1.4875,"v":36,"c":"g"},{"t":1.5125,"v":100,"c":"g"},{"t":1.5375,"v":36,"c":"r"},{"t":1.5625,"v":33,"c":"g"},{"t":1.5875,"v":32,"c":"g"},{"t":1.6125,"v":31,"c":"r"},{"t":1.6375,"v":33,"c":"g"},{"t":1.6625,"v":32,"c":"r"},{"t":1.6875,"v":30,"c":"g"},{"t":1.7125,"v":31,"c":"g"},{"t":1.7375,"v":33,"c":"r"},{"t":1.7625,"v":32,"c":"g"},{"t":1.7875,"v":30,"c":"r"},{"t":1.8125,"v":31,"c":"g"},{"t":1.8375,"v":33,"c":"r"},{"t":1.8625,"v":35,"c":"g"},{"t":1.8875,"v":36,"c":"r"},{"t":1.9125,"v":40,"c":"g"},{"t":1.9375,"v":48,"c":"g"},{"t":1.9625,"v":60,"c":"r"},{"t":1.9875,"v":75,"c":"g"},
{"t":2.0125,"v":252,"c":"r"},{"t":2.0375,"v":165,"c":"r"},{"t":2.0625,"v":120,"c":"g"},{"t":2.0875,"v":95,"c":"r"},{"t":2.1125,"v":85,"c":"g"},{"t":2.1375,"v":75,"c":"g"},{"t":2.1625,"v":70,"c":"r"},{"t":2.1875,"v":62,"c":"g"},{"t":2.2125,"v":55,"c":"g"},{"t":2.2375,"v":50,"c":"r"},{"t":2.2625,"v":48,"c":"g"},{"t":2.2875,"v":45,"c":"r"},{"t":2.3125,"v":42,"c":"g"},{"t":2.3375,"v":40,"c":"r"},{"t":2.3625,"v":38,"c":"g"},{"t":2.3875,"v":36,"c":"r"},{"t":2.4125,"v":35,"c":"g"},{"t":2.4375,"v":34,"c":"r"},{"t":2.4625,"v":33,"c":"g"},{"t":2.4875,"v":35,"c":"r"},{"t":2.5125,"v":100,"c":"r"},{"t":2.5375,"v":38,"c":"g"},{"t":2.5625,"v":36,"c":"r"},{"t":2.5875,"v":34,"c":"g"},{"t":2.6125,"v":33,"c":"r"},{"t":2.6375,"v":32,"c":"g"},{"t":2.6625,"v":34,"c":"r"},{"t":2.6875,"v":33,"c":"g"},{"t":2.7125,"v":31,"c":"r"},{"t":2.7375,"v":32,"c":"g"},{"t":2.7625,"v":31,"c":"r"},{"t":2.7875,"v":33,"c":"g"},{"t":2.8125,"v":32,"c":"r"},{"t":2.8375,"v":34,"c":"g"},{"t":2.8625,"v":36,"c":"r"},{"t":2.8875,"v":38,"c":"g"},{"t":2.9125,"v":42,"c":"r"},{"t":2.9375,"v":50,"c":"g"},{"t":2.9625,"v":58,"c":"r"},{"t":2.9875,"v":65,"c":"g"},
{"t":3.0125,"v":247,"c":"g"},{"t":3.0375,"v":160,"c":"r"},{"t":3.0625,"v":115,"c":"g"},{"t":3.0875,"v":90,"c":"r"},{"t":3.1125,"v":75,"c":"g"},{"t":3.1375,"v":65,"c":"r"},{"t":3.1625,"v":58,"c":"g"},{"t":3.1875,"v":55,"c":"r"},{"t":3.2125,"v":50,"c":"g"},{"t":3.2375,"v":48,"c":"r"},{"t":3.2625,"v":45,"c":"g"},{"t":3.2875,"v":42,"c":"r"},{"t":3.3125,"v":40,"c":"g"},{"t":3.3375,"v":38,"c":"r"},{"t":3.3625,"v":36,"c":"g"},{"t":3.3875,"v":35,"c":"r"},{"t":3.4125,"v":34,"c":"g"},{"t":3.4375,"v":33,"c":"r"},{"t":3.4625,"v":33,"c":"g"},{"t":3.4875,"v":34,"c":"r"},{"t":3.5125,"v":76,"c":"r"},{"t":3.5375,"v":36,"c":"g"},{"t":3.5625,"v":34,"c":"r"},{"t":3.5875,"v":32,"c":"g"},{"t":3.6125,"v":31,"c":"r"},{"t":3.6375,"v":30,"c":"g"},{"t":3.6625,"v":31,"c":"r"},{"t":3.6875,"v":30,"c":"g"},{"t":3.7125,"v":29,"c":"r"},{"t":3.7375,"v":31,"c":"g"},{"t":3.7625,"v":30,"c":"r"},{"t":3.7875,"v":29,"c":"g"},{"t":3.8125,"v":30,"c":"r"},{"t":3.8375,"v":31,"c":"g"},{"t":3.8625,"v":32,"c":"r"},{"t":3.8875,"v":34,"c":"g"},{"t":3.9125,"v":38,"c":"r"},{"t":3.9375,"v":45,"c":"g"},{"t":3.9625,"v":55,"c":"r"},{"t":3.9875,"v":66,"c":"g"},
{"t":4.0125,"v":237,"c":"r"},{"t":4.0375,"v":150,"c":"r"},{"t":4.0625,"v":110,"c":"g"},{"t":4.0875,"v":85,"c":"r"},{"t":4.1125,"v":78,"c":"g"},{"t":4.1375,"v":70,"c":"g"},{"t":4.1625,"v":62,"c":"r"},{"t":4.1875,"v":55,"c":"g"},{"t":4.2125,"v":52,"c":"r"},{"t":4.2375,"v":48,"c":"g"},{"t":4.2625,"v":45,"c":"g"},{"t":4.2875,"v":42,"c":"r"},{"t":4.3125,"v":40,"c":"g"},{"t":4.3375,"v":38,"c":"r"},{"t":4.3625,"v":36,"c":"g"},{"t":4.3875,"v":35,"c":"r"},{"t":4.4125,"v":34,"c":"g"},{"t":4.4375,"v":33,"c":"r"},{"t":4.4625,"v":32,"c":"g"},{"t":4.4875,"v":33,"c":"r"},{"t":4.5125,"v":62,"c":"g"},{"t":4.5375,"v":35,"c":"r"},{"t":4.5625,"v":33,"c":"g"},{"t":4.5875,"v":32,"c":"r"},{"t":4.6125,"v":31,"c":"g"},{"t":4.6375,"v":30,"c":"r"},{"t":4.6625,"v":31,"c":"g"},{"t":4.6875,"v":30,"c":"r"},{"t":4.7125,"v":29,"c":"g"},{"t":4.7375,"v":31,"c":"r"},{"t":4.7625,"v":30,"c":"g"},{"t":4.7875,"v":31,"c":"r"},{"t":4.8125,"v":32,"c":"g"},{"t":4.8375,"v":33,"c":"r"},{"t":4.8625,"v":35,"c":"g"},{"t":4.8875,"v":38,"c":"r"},{"t":4.9125,"v":42,"c":"g"},{"t":4.9375,"v":50,"c":"r"},{"t":4.9625,"v":62,"c":"g"},{"t":4.9875,"v":75,"c":"g"},
{"t":5.0125,"v":232,"c":"r"},{"t":5.0375,"v":150,"c":"r"},{"t":5.0625,"v":100,"c":"g"},{"t":5.0875,"v":82,"c":"r"},{"t":5.1125,"v":72,"c":"g"},{"t":5.1375,"v":65,"c":"r"},{"t":5.1625,"v":60,"c":"g"},{"t":5.1875,"v":55,"c":"r"},{"t":5.2125,"v":50,"c":"g"},{"t":5.2375,"v":48,"c":"r"},{"t":5.2625,"v":45,"c":"g"},{"t":5.2875,"v":42,"c":"r"},{"t":5.3125,"v":40,"c":"g"},{"t":5.3375,"v":38,"c":"r"},{"t":5.3625,"v":36,"c":"g"},{"t":5.3875,"v":35,"c":"r"},{"t":5.4125,"v":34,"c":"g"},{"t":5.4375,"v":33,"c":"r"},{"t":5.4625,"v":32,"c":"g"},{"t":5.4875,"v":34,"c":"r"},{"t":5.5125,"v":81,"c":"g"},{"t":5.5375,"v":34,"c":"r"},{"t":5.5625,"v":32,"c":"g"},{"t":5.5875,"v":31,"c":"r"},{"t":5.6125,"v":30,"c":"g"},{"t":5.6375,"v":31,"c":"r"},{"t":5.6625,"v":30,"c":"g"},{"t":5.6875,"v":29,"c":"r"},{"t":5.7125,"v":30,"c":"g"},{"t":5.7375,"v":31,"c":"r"},{"t":5.7625,"v":30,"c":"g"},{"t":5.7875,"v":32,"c":"r"},{"t":5.8125,"v":31,"c":"g"},{"t":5.8375,"v":33,"c":"r"},{"t":5.8625,"v":34,"c":"g"},{"t":5.8875,"v":36,"c":"r"},{"t":5.9125,"v":40,"c":"g"},{"t":5.9375,"v":45,"c":"g"},{"t":5.9625,"v":52,"c":"r"},{"t":5.9875,"v":60,"c":"g"},
{"t":6.0125,"v":282,"c":"g"},{"t":6.0375,"v":195,"c":"r"},{"t":6.0625,"v":150,"c":"r"},{"t":6.0875,"v":110,"c":"g"},{"t":6.1125,"v":90,"c":"r"},{"t":6.1375,"v":75,"c":"g"},{"t":6.1625,"v":68,"c":"r"},{"t":6.1875,"v":60,"c":"g"},{"t":6.2125,"v":55,"c":"r"},{"t":6.2375,"v":50,"c":"g"},{"t":6.2625,"v":46,"c":"r"},{"t":6.2875,"v":42,"c":"g"},{"t":6.3125,"v":40,"c":"r"},{"t":6.3375,"v":38,"c":"g"},{"t":6.3625,"v":36,"c":"r"},{"t":6.3875,"v":35,"c":"g"},{"t":6.4125,"v":34,"c":"r"},{"t":6.4375,"v":33,"c":"g"},{"t":6.4625,"v":34,"c":"r"},{"t":6.4875,"v":35,"c":"g"},{"t":6.5125,"v":96,"c":"g"},{"t":6.5375,"v":35,"c":"r"},{"t":6.5625,"v":33,"c":"g"},{"t":6.5875,"v":32,"c":"r"},{"t":6.6125,"v":31,"c":"g"},{"t":6.6375,"v":30,"c":"r"},{"t":6.6625,"v":31,"c":"g"},{"t":6.6875,"v":30,"c":"r"},{"t":6.7125,"v":29,"c":"g"},{"t":6.7375,"v":30,"c":"r"},{"t":6.7625,"v":31,"c":"g"},{"t":6.7875,"v":30,"c":"r"},{"t":6.8125,"v":31,"c":"g"},{"t":6.8375,"v":32,"c":"r"},{"t":6.8625,"v":34,"c":"g"},{"t":6.8875,"v":36,"c":"r"},{"t":6.9125,"v":40,"c":"g"},{"t":6.9375,"v":46,"c":"r"},{"t":6.9625,"v":55,"c":"g"},{"t":6.9875,"v":65,"c":"r"},
{"t":7.0125,"v":222,"c":"g"},{"t":7.0375,"v":145,"c":"g"},{"t":7.0625,"v":110,"c":"r"},{"t":7.0875,"v":90,"c":"g"},{"t":7.1125,"v":78,"c":"r"},{"t":7.1375,"v":70,"c":"g"},{"t":7.1625,"v":64,"c":"r"},{"t":7.1875,"v":58,"c":"g"},{"t":7.2125,"v":52,"c":"r"},{"t":7.2375,"v":48,"c":"g"},{"t":7.2625,"v":45,"c":"r"},{"t":7.2875,"v":42,"c":"g"},{"t":7.3125,"v":40,"c":"r"},{"t":7.3375,"v":38,"c":"g"},{"t":7.3625,"v":36,"c":"r"},{"t":7.3875,"v":35,"c":"g"},{"t":7.4125,"v":33,"c":"r"},{"t":7.4375,"v":32,"c":"g"},{"t":7.4625,"v":33,"c":"r"},{"t":7.4875,"v":34,"c":"g"},{"t":7.5125,"v":81,"c":"g"},{"t":7.5375,"v":34,"c":"r"},{"t":7.5625,"v":32,"c":"g"},{"t":7.5875,"v":31,"c":"r"},{"t":7.6125,"v":30,"c":"g"},{"t":7.6375,"v":29,"c":"r"},{"t":7.6625,"v":30,"c":"g"},{"t":7.6875,"v":29,"c":"r"},{"t":7.7125,"v":28,"c":"g"},{"t":7.7375,"v":30,"c":"r"},{"t":7.7625,"v":29,"c":"g"},{"t":7.7875,"v":30,"c":"r"},{"t":7.8125,"v":31,"c":"g"},{"t":7.8375,"v":32,"c":"r"},{"t":7.8625,"v":34,"c":"g"},{"t":7.8875,"v":36,"c":"r"},{"t":7.9125,"v":40,"c":"g"},{"t":7.9375,"v":45,"c":"r"},{"t":7.9625,"v":52,"c":"g"},{"t":7.9875,"v":60,"c":"g"},
{"t":8.0125,"v":187,"c":"r"},{"t":8.0375,"v":130,"c":"r"},{"t":8.0625,"v":100,"c":"g"},{"t":8.0875,"v":85,"c":"r"},{"t":8.1125,"v":75,"c":"g"},{"t":8.1375,"v":68,"c":"r"},{"t":8.1625,"v":60,"c":"g"},{"t":8.1875,"v":55,"c":"r"},{"t":8.2125,"v":50,"c":"g"},{"t":8.2375,"v":46,"c":"r"},{"t":8.2625,"v":42,"c":"g"},{"t":8.2875,"v":40,"c":"r"},{"t":8.3125,"v":38,"c":"g"},{"t":8.3375,"v":36,"c":"r"},{"t":8.3625,"v":34,"c":"g"},{"t":8.3875,"v":33,"c":"r"},{"t":8.4125,"v":32,"c":"g"},{"t":8.4375,"v":31,"c":"r"},{"t":8.4625,"v":30,"c":"g"},{"t":8.4875,"v":31,"c":"r"},{"t":8.5125,"v":86,"c":"r"},{"t":8.5375,"v":32,"c":"g"},{"t":8.5625,"v":30,"c":"r"},{"t":8.5875,"v":29,"c":"g"},{"t":8.6125,"v":28,"c":"r"},{"t":8.6375,"v":29,"c":"g"},{"t":8.6625,"v":28,"c":"r"},{"t":8.6875,"v":29,"c":"g"},{"t":8.7125,"v":28,"c":"r"},{"t":8.7375,"v":29,"c":"g"},{"t":8.7625,"v":30,"c":"r"},{"t":8.7875,"v":29,"c":"g"},{"t":8.8125,"v":30,"c":"r"},{"t":8.8375,"v":31,"c":"g"},{"t":8.8625,"v":33,"c":"r"},{"t":8.8875,"v":35,"c":"g"},{"t":8.9125,"v":38,"c":"r"},{"t":8.9375,"v":44,"c":"g"},{"t":8.9625,"v":50,"c":"r"},{"t":8.9875,"v":58,"c":"g"},
{"t":9.0125,"v":222,"c":"g"},{"t":9.0375,"v":160,"c":"g"},{"t":9.0625,"v":120,"c":"r"},{"t":9.0875,"v":100,"c":"g"},{"t":9.1125,"v":85,"c":"g"},{"t":9.1375,"v":75,"c":"r"},{"t":9.1625,"v":68,"c":"g"},{"t":9.1875,"v":60,"c":"r"},{"t":9.2125,"v":55,"c":"g"},{"t":9.2375,"v":50,"c":"r"},{"t":9.2625,"v":46,"c":"g"},{"t":9.2875,"v":42,"c":"r"},{"t":9.3125,"v":40,"c":"g"},{"t":9.3375,"v":38,"c":"r"},{"t":9.3625,"v":36,"c":"g"},{"t":9.3875,"v":34,"c":"r"},{"t":9.4125,"v":33,"c":"g"},{"t":9.4375,"v":32,"c":"r"},{"t":9.4625,"v":31,"c":"g"},{"t":9.4875,"v":32,"c":"r"},{"t":9.5125,"v":91,"c":"g"},{"t":9.5375,"v":32,"c":"r"},{"t":9.5625,"v":30,"c":"g"},{"t":9.5875,"v":29,"c":"r"},{"t":9.6125,"v":28,"c":"g"},{"t":9.6375,"v":29,"c":"r"},{"t":9.6625,"v":28,"c":"g"},{"t":9.6875,"v":29,"c":"r"},{"t":9.7125,"v":28,"c":"g"},{"t":9.7375,"v":29,"c":"r"},{"t":9.7625,"v":30,"c":"g"},{"t":9.7875,"v":29,"c":"r"},{"t":9.8125,"v":30,"c":"g"},{"t":9.8375,"v":31,"c":"r"},{"t":9.8625,"v":32,"c":"g"},{"t":9.8875,"v":34,"c":"r"},{"t":9.9125,"v":38,"c":"g"},{"t":9.9375,"v":45,"c":"r"},{"t":9.9625,"v":60,"c":"r"},{"t":9.9875,"v":95,"c":"r"}
],
"H":[
{"t":0.0167,"h":5},{"t":0.05,"h":-2.5},{"t":0.0833,"h":-2},{"t":0.1167,"h":-3.5},{"t":0.15,"h":-2.5},{"t":0.1833,"h":-1.5},{"t":0.2167,"h":-2.3},{"t":0.25,"h":-4},{"t":0.2833,"h":3},{"t":0.3167,"h":7},{"t":0.35,"h":4},{"t":0.3833,"h":-0.8},{"t":0.4167,"h":-1.2},{"t":0.45,"h":-0.8},{"t":0.4833,"h":-0.3},{"t":0.5167,"h":1.5},{"t":0.55,"h":2.8},{"t":0.5833,"h":1.2},{"t":0.6167,"h":-1.8},{"t":0.65,"h":-2.4},{"t":0.6833,"h":-1.6},{"t":0.7167,"h":-2},{"t":0.75,"h":-1.2},{"t":0.7833,"h":-1.8},{"t":0.8167,"h":-1},{"t":0.85,"h":0.8},{"t":0.8833,"h":1.2},{"t":0.9167,"h":0.6},{"t":0.95,"h":-0.4},{"t":0.9833,"h":-0.6},
{"t":1.0167,"h":-8},{"t":1.05,"h":1.5},{"t":1.0833,"h":2.5},{"t":1.1167,"h":3.5},{"t":1.15,"h":3},{"t":1.1833,"h":-2},{"t":1.2167,"h":-1.5},{"t":1.25,"h":-0.5},{"t":1.2833,"h":1},{"t":1.3167,"h":1.2},{"t":1.35,"h":0.5},{"t":1.3833,"h":-2.5},{"t":1.4167,"h":2},{"t":1.45,"h":1.5},{"t":1.4833,"h":-3},{"t":1.5167,"h":-2.5},{"t":1.55,"h":-1},{"t":1.5833,"h":-0.8},{"t":1.6167,"h":-1.2},{"t":1.65,"h":0.5},{"t":1.6833,"h":-1},{"t":1.7167,"h":-0.5},{"t":1.75,"h":4.5},{"t":1.7833,"h":6},{"t":1.8167,"h":-2.5},{"t":1.85,"h":-3},{"t":1.8833,"h":-2},{"t":1.9167,"h":-3.5},{"t":1.95,"h":-2.5},{"t":1.9833,"h":-1},
{"t":2.0167,"h":10},{"t":2.05,"h":3.5},{"t":2.0833,"h":2.5},{"t":2.1167,"h":1},{"t":2.15,"h":-0.5},{"t":2.1833,"h":0.5},{"t":2.2167,"h":-2},{"t":2.25,"h":-3.5},{"t":2.2833,"h":-3},{"t":2.3167,"h":-2},{"t":2.35,"h":2},{"t":2.3833,"h":4.2},{"t":2.4167,"h":3},{"t":2.45,"h":1.5},{"t":2.4833,"h":2.5},{"t":2.5167,"h":1},{"t":2.55,"h":-1.5},{"t":2.5833,"h":-2},{"t":2.6167,"h":-1.5},{"t":2.65,"h":-1},{"t":2.6833,"h":0.3},{"t":2.7167,"h":0.8},{"t":2.75,"h":0.5},{"t":2.7833,"h":2},{"t":2.8167,"h":1},{"t":2.85,"h":-1.2},{"t":2.8833,"h":-0.8},{"t":2.9167,"h":1.5},{"t":2.95,"h":2.5},{"t":2.9833,"h":1.8},
{"t":3.0167,"h":-1},{"t":3.05,"h":1.5},{"t":3.0833,"h":2.5},{"t":3.1167,"h":-1.5},{"t":3.15,"h":-2.5},{"t":3.1833,"h":-2},{"t":3.2167,"h":-0.5},{"t":3.25,"h":1.5},{"t":3.2833,"h":2.5},{"t":3.3167,"h":2.9},{"t":3.35,"h":2},{"t":3.3833,"h":1},{"t":3.4167,"h":-1.5},{"t":3.45,"h":-2},{"t":3.4833,"h":-1.2},{"t":3.5167,"h":0.3},{"t":3.55,"h":1.2},{"t":3.5833,"h":1.5},{"t":3.6167,"h":0.5},{"t":3.65,"h":1.8},{"t":3.6833,"h":2.9},{"t":3.7167,"h":1},{"t":3.75,"h":-0.8},{"t":3.7833,"h":0.8},{"t":3.8167,"h":2.9},{"t":3.85,"h":1.5},{"t":3.8833,"h":-0.8},{"t":3.9167,"h":-0.5},{"t":3.95,"h":1},{"t":3.9833,"h":0.5},
{"t":4.0167,"h":-7.5},{"t":4.05,"h":-4.5},{"t":4.0833,"h":-3.5},{"t":4.1167,"h":-3},{"t":4.15,"h":-1.5},{"t":4.1833,"h":1},{"t":4.2167,"h":1.5},{"t":4.25,"h":-1},{"t":4.2833,"h":-3.5},{"t":4.3167,"h":-4.5},{"t":4.35,"h":-2.5},{"t":4.3833,"h":0.8},{"t":4.4167,"h":2.5},{"t":4.45,"h":2.9},{"t":4.4833,"h":1.5},{"t":4.5167,"h":0.5},{"t":4.55,"h":1},{"t":4.5833,"h":2.5},{"t":4.6167,"h":3.7},{"t":4.65,"h":3},{"t":4.6833,"h":1.8},{"t":4.7167,"h":0.3},{"t":4.75,"h":-1.5},{"t":4.7833,"h":-2.5},{"t":4.8167,"h":-2},{"t":4.85,"h":-1},{"t":4.8833,"h":1},{"t":4.9167,"h":2.1},{"t":4.95,"h":1.2},{"t":4.9833,"h":-2},
{"t":5.0167,"h":-13.5},{"t":5.05,"h":-6},{"t":5.0833,"h":4},{"t":5.1167,"h":5.4},{"t":5.15,"h":3},{"t":5.1833,"h":2.5},{"t":5.2167,"h":4.6},{"t":5.25,"h":3.5},{"t":5.2833,"h":-1.5},{"t":5.3167,"h":-3.3},{"t":5.35,"h":-2.5},{"t":5.3833,"h":-1},{"t":5.4167,"h":2.5},{"t":5.45,"h":1},{"t":5.4833,"h":-1},{"t":5.5167,"h":1.5},{"t":5.55,"h":2.5},{"t":5.5833,"h":-0.8},{"t":5.6167,"h":-0.5},{"t":5.65,"h":0.8},{"t":5.6833,"h":0.5},{"t":5.7167,"h":0.8},{"t":5.75,"h":2.5},{"t":5.7833,"h":1.5},{"t":5.8167,"h":-1.5},{"t":5.85,"h":-2.5},{"t":5.8833,"h":-2},{"t":5.9167,"h":-1},{"t":5.95,"h":-1.2},{"t":5.9833,"h":-0.8},
{"t":6.0167,"h":10},{"t":6.05,"h":3.5},{"t":6.0833,"h":-0.8},{"t":6.1167,"h":-0.5},{"t":6.15,"h":0.5},{"t":6.1833,"h":1.2},{"t":6.2167,"h":-1},{"t":6.25,"h":-2.1},{"t":6.2833,"h":-1.8},{"t":6.3167,"h":-1},{"t":6.35,"h":-0.6},{"t":6.3833,"h":-1.2},{"t":6.4167,"h":0.5},{"t":6.45,"h":0.8},{"t":6.4833,"h":0.5},{"t":6.5167,"h":-0.8},{"t":6.55,"h":-0.6},{"t":6.5833,"h":-0.5},{"t":6.6167,"h":0.8},{"t":6.65,"h":1.5},{"t":6.6833,"h":1.2},{"t":6.7167,"h":0.6},{"t":6.75,"h":-0.4},{"t":6.7833,"h":-0.6},{"t":6.8167,"h":-0.3},{"t":6.85,"h":0.4},{"t":6.8833,"h":-0.6},{"t":6.9167,"h":-1},{"t":6.95,"h":-0.8},{"t":6.9833,"h":-0.5},
{"t":7.0167,"h":-0.8},{"t":7.05,"h":-0.6},{"t":7.0833,"h":0.4},{"t":7.1167,"h":0.8},{"t":7.15,"h":0.6},{"t":7.1833,"h":0.4},{"t":7.2167,"h":-0.6},{"t":7.25,"h":-1},{"t":7.2833,"h":-1.2},{"t":7.3167,"h":-0.8},{"t":7.35,"h":-1},{"t":7.3833,"h":-0.4},{"t":7.4167,"h":0.6},{"t":7.45,"h":1.2},{"t":7.4833,"h":1.7},{"t":7.5167,"h":1},{"t":7.55,"h":-0.4},{"t":7.5833,"h":-0.8},{"t":7.6167,"h":-0.6},{"t":7.65,"h":-0.3},{"t":7.6833,"h":0.2},{"t":7.7167,"h":0.3},{"t":7.75,"h":-0.3},{"t":7.7833,"h":-0.4},{"t":7.8167,"h":-0.2},{"t":7.85,"h":0.3},{"t":7.8833,"h":0.5},{"t":7.9167,"h":0.6},{"t":7.95,"h":0.4},{"t":7.9833,"h":-0.3},
{"t":8.0167,"h":-1},{"t":8.05,"h":-0.8},{"t":8.0833,"h":0.6},{"t":8.1167,"h":1.2},{"t":8.15,"h":0.8},{"t":8.1833,"h":-0.3},{"t":8.2167,"h":-0.4},{"t":8.25,"h":0.3},{"t":8.2833,"h":0.5},{"t":8.3167,"h":0.3},{"t":8.35,"h":-0.3},{"t":8.3833,"h":-0.4},{"t":8.4167,"h":0.2},{"t":8.45,"h":0.3},{"t":8.4833,"h":-0.3},{"t":8.5167,"h":-0.2},{"t":8.55,"h":0.6},{"t":8.5833,"h":1.5},{"t":8.6167,"h":1.2},{"t":8.65,"h":-0.5},{"t":8.6833,"h":-1},{"t":8.7167,"h":-1.2},{"t":8.75,"h":-0.6},{"t":8.7833,"h":0.3},{"t":8.8167,"h":0.5},{"t":8.85,"h":-0.3},{"t":8.8833,"h":-0.5},{"t":8.9167,"h":-0.6},{"t":8.95,"h":-0.4},{"t":8.9833,"h":-0.3},
{"t":9.0167,"h":-1.5},{"t":9.05,"h":-2},{"t":9.0833,"h":-0.8},{"t":9.1167,"h":1.2},{"t":9.15,"h":1.7},{"t":9.1833,"h":1},{"t":9.2167,"h":-0.4},{"t":9.25,"h":-0.8},{"t":9.2833,"h":-0.6},{"t":9.3167,"h":-0.3},{"t":9.35,"h":0.5},{"t":9.3833,"h":1.2},{"t":9.4167,"h":0.6},{"t":9.45,"h":-0.3},{"t":9.4833,"h":-0.5},{"t":9.5167,"h":-0.8},{"t":9.55,"h":-1.2},{"t":9.5833,"h":-0.8},{"t":9.6167,"h":0.3},{"t":9.65,"h":0.8},{"t":9.6833,"h":1.2},{"t":9.7167,"h":0.6},{"t":9.75,"h":-0.5},{"t":9.7833,"h":-0.8},{"t":9.8167,"h":-0.6},{"t":9.85,"h":-0.3},{"t":9.8833,"h":0.3},{"t":9.9167,"h":0.5},{"t":9.95,"h":0.3},{"t":9.9833,"h":-0.4}
],
"M":[
{"t":0,"w":5.8,"e":4.2},{"t":0.025,"w":4.6,"e":3.75},{"t":0.05,"w":0.8,"e":1.7},{"t":0.075,"w":-2.5,"e":-1.7},{"t":0.1125,"w":-4.2,"e":-3.3},{"t":0.1375,"w":-6.7,"e":-5.4},{"t":0.1625,"w":-6.25,"e":-5.8},{"t":0.1875,"w":-7.5,"e":-6.7},{"t":0.225,"w":-9.6,"e":-8.3},{"t":0.2625,"w":-13.2,"e":-11.25},{"t":0.28,"w":-10,"e":-10.5},{"t":0.3,"w":-4.2,"e":-6.5},{"t":0.325,"w":0,"e":-2},{"t":0.35,"w":1.7,"e":1},{"t":0.3875,"w":2.1,"e":1.9},{"t":0.425,"w":1.7,"e":1.8},{"t":0.4625,"w":1.25,"e":1.9},{"t":0.4875,"w":5,"e":4},{"t":0.5125,"w":7.1,"e":6},{"t":0.55,"w":7.9,"e":7.1},{"t":0.5875,"w":6.7,"e":6.8},{"t":0.6125,"w":5.8,"e":5.6},{"t":0.6375,"w":4.6,"e":4.6},{"t":0.6625,"w":2.9,"e":3.3},{"t":0.7,"w":2.5,"e":2.5},{"t":0.7375,"w":0.8,"e":1.25},{"t":0.7625,"w":-0.4,"e":0.4},{"t":0.8,"w":-1.25,"e":-1},{"t":0.8375,"w":-0.4,"e":-0.9},{"t":0.8625,"w":-1.7,"e":-1.3},{"t":0.8875,"w":-2.1,"e":-1.7},{"t":0.9125,"w":-1.7,"e":-1.5},{"t":0.95,"w":-1.25,"e":-1.1},{"t":0.9875,"w":-0.8,"e":-1},
{"t":1,"w":-5.8,"e":-4},{"t":1.0125,"w":-10,"e":-8.3},{"t":1.03,"w":-8.75,"e":-9.2},{"t":1.0625,"w":-5.8,"e":-6.7},{"t":1.1,"w":-2.9,"e":-3.75},{"t":1.1375,"w":0.4,"e":-0.8},{"t":1.155,"w":-0.4,"e":-1},{"t":1.1875,"w":-2.9,"e":-2.5},{"t":1.225,"w":-3.3,"e":-3.2},{"t":1.2625,"w":-2.9,"e":-3},{"t":1.3,"w":-2.5,"e":-2.7},{"t":1.3375,"w":-1.7,"e":-2.1},{"t":1.3625,"w":-1.25,"e":-1.7},{"t":1.3875,"w":-3.3,"e":-2.5},{"t":1.4125,"w":-4.2,"e":-3.5},{"t":1.4375,"w":-2.1,"e":-2.9},{"t":1.475,"w":-3.3,"e":-3.2},{"t":1.5125,"w":-4.6,"e":-4.2},{"t":1.55,"w":-3.5,"e":-3.75},{"t":1.5875,"w":-4.2,"e":-4.2},{"t":1.625,"w":-5.4,"e":-5},{"t":1.6625,"w":-5.8,"e":-5.8},{"t":1.7,"w":-7.1,"e":-6.7},{"t":1.725,"w":-6.7,"e":-6.5},{"t":1.75,"w":-2.5,"e":-3.75},{"t":1.775,"w":0.4,"e":-0.8},{"t":1.8,"w":-0.4,"e":-0.4},{"t":1.8375,"w":-2.9,"e":-2.1},{"t":1.875,"w":-4.2,"e":-3.75},{"t":1.9125,"w":-5.4,"e":-5},{"t":1.95,"w":-6.7,"e":-6.25},{"t":1.975,"w":-5.8,"e":-6.25},{"t":1.99,"w":0,"e":-4},
{"t":2,"w":10,"e":3},{"t":2.025,"w":5,"e":5},{"t":2.05,"w":3,"e":4.2},{"t":2.075,"w":1.5,"e":2.5},{"t":2.1,"w":2.1,"e":2.1},{"t":2.125,"w":2.9,"e":2.5},{"t":2.15,"w":1.2,"e":1.7},{"t":2.175,"w":-0.4,"e":0.4},{"t":2.2,"w":-1.7,"e":-1.2},{"t":2.225,"w":-3.8,"e":-2.9},{"t":2.25,"w":-4.2,"e":-4},{"t":2.275,"w":-5.8,"e":-5},{"t":2.3,"w":-7.3,"e":-6.3},{"t":2.3125,"w":-7.5,"e":-6.6},{"t":2.3375,"w":-6.2,"e":-6},{"t":2.3625,"w":-4.2,"e":-4.2},{"t":2.3875,"w":-1.7,"e":-2},{"t":2.4125,"w":0.4,"e":0.2},{"t":2.4375,"w":2.5,"e":1.9},{"t":2.4625,"w":3.3,"e":2.9},{"t":2.4875,"w":4.6,"e":4},{"t":2.5,"w":5.8,"e":4.6},{"t":2.525,"w":4.6,"e":4.6},{"t":2.55,"w":3.8,"e":4},{"t":2.575,"w":2.9,"e":3.3},{"t":2.6,"w":2.5,"e":2.9},{"t":2.625,"w":3.3,"e":3.3},{"t":2.65,"w":5,"e":4.2},{"t":2.675,"w":4.2,"e":4.2},{"t":2.7,"w":3.3,"e":3.5},{"t":2.725,"w":1.7,"e":2.5},{"t":2.75,"w":2.1,"e":2.1},{"t":2.775,"w":3.3,"e":2.9},{"t":2.8,"w":3.8,"e":3.5},{"t":2.825,"w":2.9,"e":3},{"t":2.85,"w":2.1,"e":2.5},{"t":2.875,"w":2.5,"e":2.5},{"t":2.9,"w":2.1,"e":2.3},{"t":2.925,"w":2.5,"e":2.4},{"t":2.95,"w":2.1,"e":2.3},{"t":2.975,"w":1.7,"e":2},
{"t":3,"w":0.4,"e":1.5},{"t":3.045,"w":-0.4,"e":0.5},{"t":3.093,"w":-1.7,"e":-0.8},{"t":3.141,"w":-1.7,"e":-1.4},{"t":3.205,"w":-0.4,"e":-1},{"t":3.253,"w":0,"e":-0.4},{"t":3.3,"w":0.4,"e":0},{"t":3.35,"w":-1.7,"e":-1},{"t":3.397,"w":-2.1,"e":-1.7},{"t":3.445,"w":-2.5,"e":-2.2},{"t":3.49,"w":-0.4,"e":-1.2},{"t":3.54,"w":1.7,"e":0.6},{"t":3.57,"w":2.5,"e":1.7},{"t":3.6,"w":2.9,"e":2.3},{"t":3.635,"w":2.1,"e":2.2},{"t":3.667,"w":2.5,"e":2.3},{"t":3.715,"w":0.4,"e":1.2},{"t":3.763,"w":1.7,"e":1.3},{"t":3.81,"w":4.6,"e":3},{"t":3.86,"w":5,"e":4.2},{"t":3.907,"w":4.6,"e":4.4},{"t":3.955,"w":3.75,"e":4},{"t":3.99,"w":1.25,"e":2.5},
{"t":4,"w":0.4,"e":1.7},{"t":4.03,"w":-4,"e":-1.5},{"t":4.07,"w":-6.7,"e":-5},{"t":4.135,"w":-5.8,"e":-6},{"t":4.17,"w":-4.6,"e":-5.2},{"t":4.23,"w":-5.4,"e":-5},{"t":4.295,"w":-3.75,"e":-4.5},{"t":4.34,"w":-5.4,"e":-4.8},{"t":4.375,"w":-2.5,"e":-3.5},{"t":4.41,"w":-0.4,"e":-1.7},{"t":4.455,"w":0.4,"e":-0.4},{"t":4.49,"w":0,"e":0},{"t":4.555,"w":-0.4,"e":-0.3},{"t":4.62,"w":0.4,"e":0},{"t":4.65,"w":3.75,"e":1.5},{"t":4.68,"w":6.25,"e":4.2},{"t":4.71,"w":5.8,"e":5.4},{"t":4.745,"w":4.6,"e":5},{"t":4.78,"w":2.9,"e":4},{"t":4.81,"w":0.8,"e":2.5},{"t":4.84,"w":-0.4,"e":0.8},{"t":4.875,"w":0.4,"e":0.2},{"t":4.905,"w":1.25,"e":0.6},{"t":4.94,"w":0.4,"e":0.6},{"t":4.97,"w":-0.4,"e":0.2},{"t":4.985,"w":-5,"e":-2},
{"t":5,"w":-12,"e":-6},{"t":5.02,"w":-15,"e":-11},{"t":5.05,"w":-10,"e":-12.5},{"t":5.083,"w":-3.75,"e":-8},{"t":5.115,"w":-0.4,"e":-3.5},{"t":5.147,"w":2.9,"e":0.4},{"t":5.18,"w":6.25,"e":3.3},{"t":5.212,"w":7.5,"e":5.8},{"t":5.244,"w":7.9,"e":7.1},{"t":5.276,"w":7.1,"e":7.5},{"t":5.308,"w":4.6,"e":6.7},{"t":5.34,"w":1.7,"e":4.6},{"t":5.372,"w":0.8,"e":2.5},{"t":5.404,"w":1.25,"e":1.7},{"t":5.436,"w":2.1,"e":1.7},{"t":5.484,"w":2.9,"e":2.1},{"t":5.532,"w":2.9,"e":2.5},{"t":5.564,"w":1.25,"e":2.1},{"t":5.596,"w":0.8,"e":1.7},{"t":5.628,"w":1.25,"e":1.25},{"t":5.66,"w":1,"e":1.25},{"t":5.692,"w":0.8,"e":1},{"t":5.724,"w":0.4,"e":0.8},{"t":5.75,"w":2.5,"e":1.25},{"t":5.772,"w":1.25,"e":1.7},{"t":5.805,"w":-0.4,"e":0.8},{"t":5.837,"w":-1.7,"e":-0.4},{"t":5.869,"w":-2.9,"e":-1.7},{"t":5.9,"w":-3.3,"e":-2.5},{"t":5.949,"w":-3.75,"e":-3.3},{"t":5.98,"w":-2.9,"e":-3.5},
{"t":6,"w":9.6,"e":-1},{"t":6.01,"w":9.6,"e":3},{"t":6.045,"w":7.5,"e":7},{"t":6.093,"w":5.4,"e":6.25},{"t":6.141,"w":5,"e":5.4},{"t":6.173,"w":5.8,"e":5.4},{"t":6.205,"w":4.6,"e":5},{"t":6.237,"w":2.5,"e":4.2},{"t":6.269,"w":1.7,"e":2.9},{"t":6.301,"w":1.25,"e":2.1},{"t":6.333,"w":0.4,"e":1.25},{"t":6.381,"w":0,"e":0.6},{"t":6.43,"w":-0.8,"e":-0.2},{"t":6.478,"w":-0.4,"e":-0.4},{"t":6.526,"w":0,"e":-0.2},{"t":6.574,"w":0.8,"e":0.2},{"t":6.606,"w":1.4,"e":0.8},{"t":6.654,"w":1.25,"e":1.25},{"t":6.702,"w":0.4,"e":1},{"t":6.75,"w":0.4,"e":0.6},{"t":6.814,"w":1.25,"e":0.8},{"t":6.862,"w":0,"e":0.6},{"t":6.91,"w":0.4,"e":0.3},{"t":6.958,"w":-0.3,"e":0.1},
{"t":7,"w":0,"e":0},{"t":7.05,"w":-0.4,"e":-0.2},{"t":7.1,"w":0.4,"e":0},{"t":7.147,"w":0.8,"e":0.4},{"t":7.195,"w":2.1,"e":1.25},{"t":7.227,"w":2.5,"e":1.7},{"t":7.259,"w":1.7,"e":1.9},{"t":7.307,"w":0.4,"e":1.25},{"t":7.355,"w":-0.8,"e":0.2},{"t":7.4,"w":-1.7,"e":-0.8},{"t":7.435,"w":-2.1,"e":-1.5},{"t":7.483,"w":-1.25,"e":-1.7},{"t":7.53,"w":0.4,"e":-0.8},{"t":7.58,"w":2.25,"e":0.8},{"t":7.627,"w":2.1,"e":1.7},{"t":7.675,"w":0.8,"e":1.5},{"t":7.724,"w":0,"e":0.8},{"t":7.788,"w":-0.4,"e":0.2},{"t":7.852,"w":-0.4,"e":-0.2},{"t":7.916,"w":0,"e":-0.2},{"t":7.964,"w":0.25,"e":0},
{"t":8,"w":-0.4,"e":-0.1},{"t":8.045,"w":-0.8,"e":-0.4},{"t":8.093,"w":0,"e":-0.4},{"t":8.141,"w":0.4,"e":0},{"t":8.19,"w":0.8,"e":0.4},{"t":8.237,"w":1,"e":0.7},{"t":8.285,"w":1.7,"e":1},{"t":8.333,"w":2.1,"e":1.5},{"t":8.38,"w":2.1,"e":1.8},{"t":8.413,"w":1.25,"e":1.7},{"t":8.46,"w":0.4,"e":1.2},{"t":8.51,"w":0.4,"e":0.8},{"t":8.557,"w":1,"e":0.8},{"t":8.605,"w":0,"e":0.6},{"t":8.654,"w":-0.4,"e":0.2},{"t":8.7,"w":-0.25,"e":0},{"t":8.75,"w":-0.4,"e":-0.1},{"t":8.8,"w":0,"e":-0.1},{"t":8.846,"w":-0.4,"e":-0.2},{"t":8.894,"w":-0.8,"e":-0.4},{"t":8.942,"w":-1,"e":-0.6},{"t":8.99,"w":-0.4,"e":-0.5},
{"t":9.038,"w":-1.25,"e":-0.8},{"t":9.07,"w":-2.1,"e":-1.3},{"t":9.1,"w":-0.4,"e":-1},{"t":9.135,"w":1.25,"e":0},{"t":9.167,"w":1.7,"e":0.8},{"t":9.215,"w":1.1,"e":1.1},{"t":9.263,"w":0.4,"e":0.8},{"t":9.31,"w":0,"e":0.4},{"t":9.343,"w":-0.4,"e":0},{"t":9.375,"w":0.4,"e":0},{"t":9.407,"w":1.1,"e":0.4},{"t":9.439,"w":1.4,"e":0.8},{"t":9.487,"w":0.8,"e":0.9},{"t":9.519,"w":-0.25,"e":0.5},{"t":9.55,"w":-1.25,"e":-0.2},{"t":9.583,"w":-1.7,"e":-0.8},{"t":9.615,"w":-1.4,"e":-1.1},{"t":9.663,"w":-0.25,"e":-0.8},{"t":9.695,"w":0.8,"e":-0.2},{"t":9.743,"w":1.25,"e":0.4},{"t":9.79,"w":0.4,"e":0.6},{"t":9.84,"w":0,"e":0.3},{"t":9.888,"w":-0.25,"e":0},{"t":9.936,"w":-0.25,"e":-0.2},{"t":9.985,"w":-0.5,"e":-0.4},{"t":10,"w":-0.725,"e":-0.547}
]
},
"vconcat":[
{"width":1380,"height":27,"view":{"stroke":null,"fill":null},"data":{"values":[{}]},
 "layer":[
  {"mark":{"type":"text","text":"上证指数","align":"left","color":"#f2ef8a","fontSize":12},"encoding":{"x":{"datum":0.0375,"type":"quantitative","scale":{"domain":[0,10.35],"nice":false,"zero":false},"axis":null}}},
  {"mark":{"type":"text","text":"分时","align":"left","color":"#d2d2d2","fontSize":12},"encoding":{"x":{"datum":0.46,"type":"quantitative","axis":null}}},
  {"mark":{"type":"text","text":"成交额(元)","align":"left","color":"#b4b4b4","fontSize":12},"encoding":{"x":{"datum":0.7,"type":"quantitative","axis":null}}}
 ]},
{"width":1333,"height":378,
 "encoding":{
  "x":{"field":"t","type":"quantitative","title":null,"scale":{"domain":[0,10],"nice":false,"zero":false,"padding":0},
   "axis":{"values":[0,0.125,0.25,0.375,0.5,0.625,0.75,0.875,1,1.125,1.25,1.375,1.5,1.625,1.75,1.875,2,2.125,2.25,2.375,2.5,2.625,2.75,2.875,3,3.125,3.25,3.375,3.5,3.625,3.75,3.875,4,4.125,4.25,4.375,4.5,4.625,4.75,4.875,5,5.125,5.25,5.375,5.5,5.625,5.75,5.875,6,6.125,6.25,6.375,6.5,6.625,6.75,6.875,7,7.125,7.25,7.375,7.5,7.625,7.75,7.875,8,8.125,8.25,8.375,8.5,8.625,8.75,8.875,9,9.125,9.25,9.375,9.5,9.625,9.75,9.875,10],
    "grid":true,"labels":false,"ticks":false,"domain":false,"title":null,
    "gridColor":{"condition":{"test":"datum.value % 0.5 != 0","value":"#3a3a3a"},"value":"#2c2c2c"},
    "gridDash":{"condition":{"test":"datum.value % 0.5 != 0","value":[1,2]},"value":[]}}},
  "y":{"field":"p","type":"quantitative","title":null,"scale":{"domain":[-3.13,3.13],"nice":false,"zero":false},
   "axis":{"orient":"right","values":[-3.13,-2.68,-2.23,-1.79,-1.34,-0.89,-0.45,0,0.45,0.89,1.34,1.79,2.23,2.68,3.13],
    "ticks":false,"domain":false,"title":null,"labelPadding":4,"labelFontSize":12,"labelFlush":false,"labelOverlap":false,
    "labelExpr":"format(abs(datum.value), '.2f') + '%'",
    "labelColor":{"condition":[{"test":"datum.value == 0","value":"#c8c8c8"},{"test":"datum.value > 0","value":"#ea5a50"}],"value":"#3cc85a"},
    "gridColor":{"condition":{"test":"datum.value == 0","value":"#4a4a4a"},"value":"#2c2c2c"},
    "gridWidth":{"condition":{"test":"datum.value == 0","value":2},"value":1}}}
 },
 "layer":[
  {"data":{"values":[{}]},"mark":{"type":"rect","color":"#060606","blend":"difference"},"encoding":{"x":{"datum":9},"x2":{"datum":10},"y":{"datum":-3.13},"y2":{"datum":3.13}}},
  {"data":{"name":"B"},"mark":{"type":"rule","strokeWidth":1,"clip":true},"encoding":{"y2":{"datum":0},"color":{"condition":{"test":"datum.p > 0","value":"#f25f5f"},"value":"#00f0f0"}}},
  {"data":{"name":"Y"},"mark":{"type":"line","color":"#ffff00","strokeWidth":1,"clip":true},"encoding":{"detail":{"field":"d"}}},
  {"data":{"name":"W"},"mark":{"type":"line","color":"#ffffff","strokeWidth":1,"clip":true},"encoding":{"detail":{"field":"d"}}},
  {"data":{"name":"D"},"mark":{"type":"text","align":"left","baseline":"top","dx":3,"dy":5,"color":"#8c8c8c","fontSize":12},"encoding":{"y":{"datum":3.13},"text":{"field":"lab"}}}
 ]},
{"width":1333,"height":13,"view":{"stroke":null,"fill":null},"data":{"values":[{}]},"mark":{"type":"text","text":""}},
{"width":1333,"height":94,"data":{"name":"V"},
 "mark":{"type":"bar","size":3.5,"orient":"vertical","clip":true},
 "encoding":{
  "x":{"field":"t","type":"quantitative","title":null,"scale":{"domain":[0,10],"nice":false,"zero":false,"padding":0},
   "axis":{"values":[0,0.125,0.25,0.375,0.5,0.625,0.75,0.875,1,1.125,1.25,1.375,1.5,1.625,1.75,1.875,2,2.125,2.25,2.375,2.5,2.625,2.75,2.875,3,3.125,3.25,3.375,3.5,3.625,3.75,3.875,4,4.125,4.25,4.375,4.5,4.625,4.75,4.875,5,5.125,5.25,5.375,5.5,5.625,5.75,5.875,6,6.125,6.25,6.375,6.5,6.625,6.75,6.875,7,7.125,7.25,7.375,7.5,7.625,7.75,7.875,8,8.125,8.25,8.375,8.5,8.625,8.75,8.875,9,9.125,9.25,9.375,9.5,9.625,9.75,9.875,10],
    "grid":true,"labels":false,"ticks":false,"domain":false,"title":null,
    "gridColor":{"condition":{"test":"datum.value % 0.5 != 0","value":"#3a3a3a"},"value":"#2c2c2c"},
    "gridDash":{"condition":{"test":"datum.value % 0.5 != 0","value":[1,2]},"value":[]}}},
  "y":{"field":"v","type":"quantitative","title":null,"scale":{"domain":[0,283],"nice":false},
   "axis":{"orient":"right","values":[94.33,188.67,283],"ticks":false,"domain":false,"title":null,"labelPadding":4,"labelFontSize":12,"labelColor":"#9a9a9a","labelOffset":2,"labelFlush":false,
    "labelExpr":"datum.value > 250 ? '283亿' : datum.value > 150 ? '189亿' : '94.3亿'","gridColor":"#2c2c2c"}},
  "color":{"field":"c","type":"nominal","scale":{"domain":["r","g"],"range":["#ef5b5b","#3dd56b"]},"legend":null}
 }},
{"width":1333,"height":20,"view":{"stroke":null,"fill":"#0a0a0a"},"data":{"values":[{}]},
 "layer":[
  {"mark":{"type":"point","shape":"square","filled":false,"size":160,"stroke":"#6a6a6a","strokeWidth":1},"encoding":{"x":{"datum":0.06,"type":"quantitative","scale":{"domain":[0,10],"nice":false,"zero":false},"axis":null}}},
  {"mark":{"type":"text","text":"?","align":"center","color":"#a0a0a0","fontSize":11},"encoding":{"x":{"datum":0.06,"type":"quantitative","axis":null}}},
  {"mark":{"type":"text","text":"MACD (12,26,9)","align":"left","color":"#8c8c8c","fontSize":12},"encoding":{"x":{"datum":0.155,"type":"quantitative","axis":null}}},
  {"mark":{"type":"text","text":"DIF:-0.725↓","align":"left","color":"#ececec","fontSize":12},"encoding":{"x":{"datum":0.87,"type":"quantitative","axis":null}}},
  {"mark":{"type":"text","text":"DEA:-0.547↓","align":"left","color":"#f0f000","fontSize":12},"encoding":{"x":{"datum":1.425,"type":"quantitative","axis":null}}},
  {"mark":{"type":"text","text":"MACD:-0.356↓","align":"left","color":"#3dcf5c","fontSize":12},"encoding":{"x":{"datum":2.01,"type":"quantitative","axis":null}}},
  {"mark":{"type":"text","text":"改参数","align":"left","color":"#9a9a9a","fontSize":12},"encoding":{"x":{"datum":8.8625,"type":"quantitative","axis":null}}},
  {"mark":{"type":"text","text":"加指标","align":"left","color":"#9a9a9a","fontSize":12},"encoding":{"x":{"datum":9.2075,"type":"quantitative","axis":null}}},
  {"mark":{"type":"text","text":"换指标","align":"left","color":"#9a9a9a","fontSize":12},"encoding":{"x":{"datum":9.555,"type":"quantitative","axis":null}}},
  {"mark":{"type":"point","shape":"square","filled":false,"size":196,"stroke":"#777777","strokeWidth":1},"encoding":{"x":{"datum":9.9175,"type":"quantitative","axis":null}}},
  {"mark":{"type":"text","text":"×","align":"center","color":"#aaaaaa","fontSize":13},"encoding":{"x":{"datum":9.9175,"type":"quantitative","axis":null}}}
 ]},
{"width":1333,"height":102,
 "encoding":{
  "x":{"field":"t","type":"quantitative","title":null,"scale":{"domain":[0,10],"nice":false,"zero":false,"padding":0},
   "axis":{"values":[0,0.125,0.25,0.375,0.5,0.625,0.75,0.875,1,1.125,1.25,1.375,1.5,1.625,1.75,1.875,2,2.125,2.25,2.375,2.5,2.625,2.75,2.875,3,3.125,3.25,3.375,3.5,3.625,3.75,3.875,4,4.125,4.25,4.375,4.5,4.625,4.75,4.875,5,5.125,5.25,5.375,5.5,5.625,5.75,5.875,6,6.125,6.25,6.375,6.5,6.625,6.75,6.875,7,7.125,7.25,7.375,7.5,7.625,7.75,7.875,8,8.125,8.25,8.375,8.5,8.625,8.75,8.875,9,9.125,9.25,9.375,9.5,9.625,9.75,9.875,10],
    "grid":true,"labels":true,"ticks":false,"domain":false,"title":null,"labelFlush":false,"labelOverlap":false,"labelColor":"#9a9a9a","labelFontSize":12,"labelPadding":5,
    "labelExpr":"datum.value == 9.5 ? '11:30' : datum.value == 9.75 ? '14:00' : datum.value == 10 ? '15:00' : datum.value % 1 == 0 ? ['01/30','02/02','02/03','02/04','02/05','02/06','02/09','02/10','02/11','02/12'][datum.value] : ''",
    "labelAlign":{"condition":{"test":"datum.value >= 9.5","value":"center"},"value":"left"},
    "gridColor":{"condition":{"test":"datum.value % 0.5 != 0","value":"#3a3a3a"},"value":"#2c2c2c"},
    "gridDash":{"condition":{"test":"datum.value % 0.5 != 0","value":[1,2]},"value":[]}}}
 },
 "layer":[
  {"data":{"name":"H"},"mark":{"type":"bar","size":4.5,"orient":"vertical","clip":true},
   "encoding":{"y":{"field":"h","type":"quantitative","title":null,"scale":{"domain":[-15.25,10.4],"nice":false},
    "axis":{"orient":"right","values":[3.9,-2.5,-8.75],"labels":false,"ticks":false,"domain":false,"title":null,"gridColor":"#2c2c2c"}},
    "color":{"condition":{"test":"datum.h > 0","value":"#f25f5f"},"value":"#0ff0f0"}}},
  {"data":{"name":"M"},"mark":{"type":"line","color":"#ffff00","strokeWidth":1,"clip":true},"encoding":{"y":{"field":"e","type":"quantitative","title":null}}},
  {"data":{"name":"M"},"mark":{"type":"line","color":"#ffffff","strokeWidth":1,"clip":true},"encoding":{"y":{"field":"w","type":"quantitative","title":null}}}
 ]},
{"width":1333,"height":22,"view":{"stroke":null,"fill":null},"data":{"values":[{}]},"mark":{"type":"text","text":""}}
]
}
